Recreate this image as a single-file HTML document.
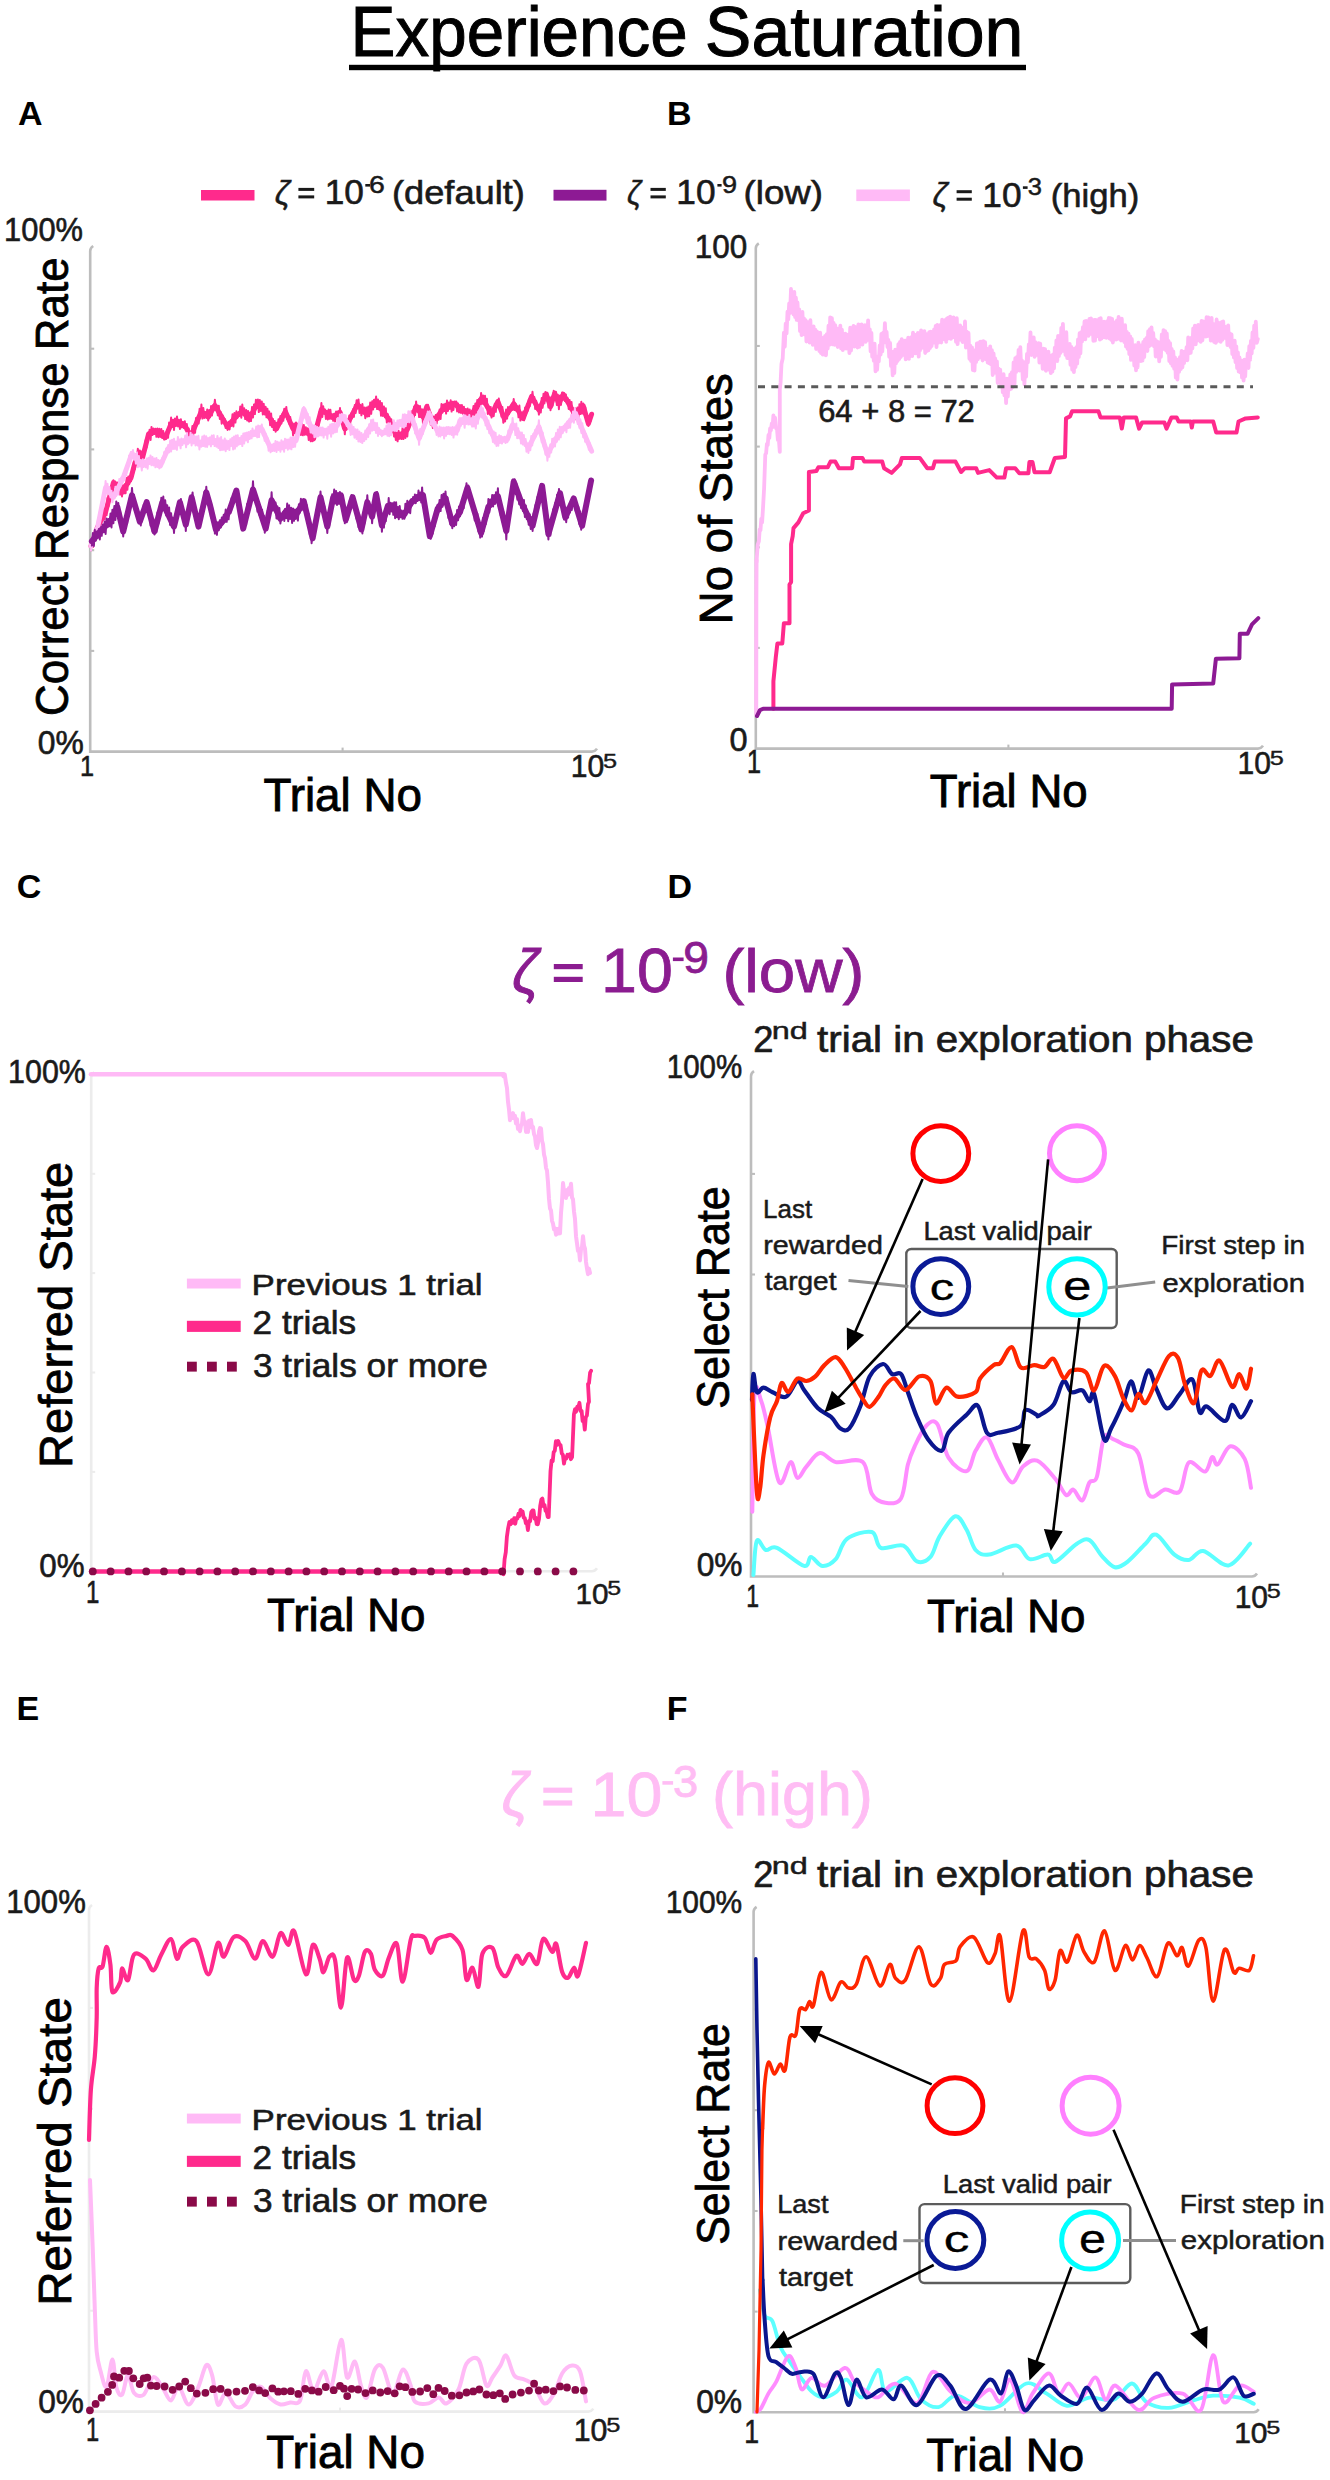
<!DOCTYPE html>
<html><head><meta charset="utf-8"><style>
html,body{margin:0;padding:0;background:#fff;}
svg{display:block;}
text{font-family:"Liberation Sans",sans-serif;}
</style></head><body>
<svg width="1330" height="2480" viewBox="0 0 1330 2480">
<rect width="1330" height="2480" fill="#fff"/>
<text x="350.61" y="56.00" font-size="71.00" font-weight="normal" font-style="normal" fill="#000" stroke="#000" stroke-width="1.00" textLength="337.13" lengthAdjust="spacingAndGlyphs" >Experience</text>
<text x="704.86" y="56.00" font-size="71.00" font-weight="normal" font-style="normal" fill="#000" stroke="#000" stroke-width="1.00" textLength="318.60" lengthAdjust="spacingAndGlyphs" >Saturation</text>
<rect x="349" y="64.8" width="677" height="5.4" fill="#000"/>
<text x="17.95" y="125" font-size="34" font-weight="bold" fill="#000">A</text>
<text x="666.99" y="125.3" font-size="34" font-weight="bold" fill="#000">B</text>
<text x="16.64" y="897.5" font-size="34" font-weight="bold" fill="#000">C</text>
<text x="667.39" y="897.6" font-size="34" font-weight="bold" fill="#000">D</text>
<text x="16.59" y="1720" font-size="34" font-weight="bold" fill="#000">E</text>
<text x="666.79" y="1720" font-size="34" font-weight="bold" fill="#000">F</text>
<rect x="201" y="190" width="53.5" height="10.5" fill="#ff2a8c"/>
<rect x="553.5" y="189.8" width="53" height="10.8" fill="#8d1a94"/>
<rect x="856.3" y="189.5" width="53.6" height="11.6" fill="#ffbaf6"/>
<text x="274.80" y="203.90" font-size="33.89" font-weight="normal" font-style="italic" fill="#1a1a1a" stroke="#1a1a1a" stroke-width="0.50" textLength="15.41" lengthAdjust="spacingAndGlyphs" >ζ</text>
<rect x="298.4" y="187.9" width="15.8" height="3" fill="#1a1a1a"/>
<rect x="298.4" y="195.4" width="15.8" height="3" fill="#1a1a1a"/>
<text x="324.76" y="204.20" font-size="34.57" font-weight="normal" font-style="normal" fill="#1a1a1a" stroke="#1a1a1a" stroke-width="0.60" textLength="39.15" lengthAdjust="spacingAndGlyphs" >10</text>
<rect x="365.3" y="184" width="4.7" height="2.6" fill="#1a1a1a"/>
<text x="369.08" y="192.60" font-size="24.00" font-weight="normal" font-style="normal" fill="#1a1a1a" stroke="#1a1a1a" stroke-width="0.50" textLength="15.79" lengthAdjust="spacingAndGlyphs" >6</text>
<text x="392.03" y="204.20" font-size="33.00" font-weight="normal" font-style="normal" fill="#1a1a1a" stroke="#1a1a1a" stroke-width="0.60" textLength="132.88" lengthAdjust="spacingAndGlyphs" >(default)</text>
<text x="626.97" y="203.90" font-size="33.89" font-weight="normal" font-style="italic" fill="#1a1a1a" stroke="#1a1a1a" stroke-width="0.50" textLength="14.34" lengthAdjust="spacingAndGlyphs" >ζ</text>
<rect x="650.5" y="187.9" width="15.3" height="3" fill="#1a1a1a"/>
<rect x="650.5" y="195.4" width="15.3" height="3" fill="#1a1a1a"/>
<text x="676.25" y="204.20" font-size="34.57" font-weight="normal" font-style="normal" fill="#1a1a1a" stroke="#1a1a1a" stroke-width="0.60" textLength="39.27" lengthAdjust="spacingAndGlyphs" >10</text>
<rect x="717.4" y="184" width="4.2" height="2.6" fill="#1a1a1a"/>
<text x="721.98" y="192.60" font-size="24.00" font-weight="normal" font-style="normal" fill="#1a1a1a" stroke="#1a1a1a" stroke-width="0.50" textLength="15.07" lengthAdjust="spacingAndGlyphs" >9</text>
<text x="743.60" y="204.20" font-size="33.00" font-weight="normal" font-style="normal" fill="#1a1a1a" stroke="#1a1a1a" stroke-width="0.60" textLength="79.46" lengthAdjust="spacingAndGlyphs" >(low)</text>
<text x="932.40" y="206.20" font-size="33.89" font-weight="normal" font-style="italic" fill="#1a1a1a" stroke="#1a1a1a" stroke-width="0.50" textLength="15.41" lengthAdjust="spacingAndGlyphs" >ζ</text>
<rect x="956.6" y="190.20000000000002" width="15.2" height="3" fill="#1a1a1a"/>
<rect x="956.6" y="197.70000000000002" width="15.2" height="3" fill="#1a1a1a"/>
<text x="982.35" y="206.50" font-size="34.57" font-weight="normal" font-style="normal" fill="#1a1a1a" stroke="#1a1a1a" stroke-width="0.60" textLength="39.27" lengthAdjust="spacingAndGlyphs" >10</text>
<rect x="1022.9" y="186.3" width="4.7" height="2.6" fill="#1a1a1a"/>
<text x="1027.68" y="194.90" font-size="24.00" font-weight="normal" font-style="normal" fill="#1a1a1a" stroke="#1a1a1a" stroke-width="0.50" textLength="14.17" lengthAdjust="spacingAndGlyphs" >3</text>
<text x="1050.82" y="206.50" font-size="33.00" font-weight="normal" font-style="normal" fill="#1a1a1a" stroke="#1a1a1a" stroke-width="0.60" textLength="88.52" lengthAdjust="spacingAndGlyphs" >(high)</text>
<path d="M93.2,246 Q90.2,248 90.2,251 L90.2,751.6 L592,751.6 Q595,751.6 597,748.6" fill="none" stroke="#bdbdbd" stroke-width="2.6"/>
<line x1="90.2" y1="348.7" x2="94.2" y2="348.7" stroke="#bdbdbd" stroke-width="2.08"/>
<line x1="90.2" y1="449.4" x2="94.2" y2="449.4" stroke="#bdbdbd" stroke-width="2.08"/>
<line x1="90.2" y1="550.2" x2="94.2" y2="550.2" stroke="#bdbdbd" stroke-width="2.08"/>
<line x1="90.2" y1="650.9" x2="94.2" y2="650.9" stroke="#bdbdbd" stroke-width="2.08"/>
<line x1="342.6" y1="751.6" x2="342.6" y2="747.6" stroke="#bdbdbd" stroke-width="2.08"/>
<text x="4.09" y="240.80" font-size="33.29" font-weight="normal" font-style="normal" fill="#1a1a1a" stroke="#1a1a1a" stroke-width="0.63" textLength="78.92" lengthAdjust="spacingAndGlyphs" >100%</text>
<text x="37.73" y="754.00" font-size="32.86" font-weight="normal" font-style="normal" fill="#1a1a1a" stroke="#1a1a1a" stroke-width="0.62" textLength="46.00" lengthAdjust="spacingAndGlyphs" >0%</text>
<text x="80.10" y="775.60" font-size="29.42" font-weight="normal" font-style="normal" fill="#1a1a1a" stroke="#1a1a1a" stroke-width="0.56" textLength="14.06" lengthAdjust="spacingAndGlyphs" >1</text>
<text x="570.74" y="776.70" font-size="30.57" font-weight="normal" font-style="normal" fill="#1a1a1a" stroke="#1a1a1a" stroke-width="0.58" textLength="33.48" lengthAdjust="spacingAndGlyphs" >10</text>
<text x="602.95" y="767.54" font-size="19.91" font-weight="normal" font-style="normal" fill="#1a1a1a" stroke="#1a1a1a" stroke-width="0.38" textLength="14.10" lengthAdjust="spacingAndGlyphs" >5</text>
<text x="263.38" y="810.70" font-size="46.00" font-weight="normal" font-style="normal" fill="#000" stroke="#000" stroke-width="0.87" textLength="158.61" lengthAdjust="spacingAndGlyphs" >Trial No</text>
<text transform="translate(68.40,715.99) rotate(-90)" x="0" y="0" font-size="46.00" fill="#000" stroke="#000" stroke-width="0.8" textLength="458.54" lengthAdjust="spacingAndGlyphs">Correct Response Rate</text>
<path d="M758.8,243.3 Q755.8,245.3 755.8,248.3 L755.8,748.6 L1258,748.6 Q1261,748.6 1263,745.6" fill="none" stroke="#bdbdbd" stroke-width="2.6"/>
<line x1="755.8" y1="345.96" x2="759.8" y2="345.96" stroke="#bdbdbd" stroke-width="2.08"/>
<line x1="755.8" y1="446.6" x2="759.8" y2="446.6" stroke="#bdbdbd" stroke-width="2.08"/>
<line x1="755.8" y1="547.3" x2="759.8" y2="547.3" stroke="#bdbdbd" stroke-width="2.08"/>
<line x1="755.8" y1="647.9" x2="759.8" y2="647.9" stroke="#bdbdbd" stroke-width="2.08"/>
<line x1="1008.4" y1="748.6" x2="1008.4" y2="744.6" stroke="#bdbdbd" stroke-width="2.08"/>
<text x="694.74" y="258.00" font-size="33.14" font-weight="normal" font-style="normal" fill="#1a1a1a" stroke="#1a1a1a" stroke-width="0.63" textLength="52.47" lengthAdjust="spacingAndGlyphs" >100</text>
<text x="729.50" y="751.00" font-size="32.86" font-weight="normal" font-style="normal" fill="#1a1a1a" stroke="#1a1a1a" stroke-width="0.62" textLength="18.08" lengthAdjust="spacingAndGlyphs" >0</text>
<text x="747.10" y="773.40" font-size="32.46" font-weight="normal" font-style="normal" fill="#1a1a1a" stroke="#1a1a1a" stroke-width="0.62" textLength="14.06" lengthAdjust="spacingAndGlyphs" >1</text>
<text x="1237.55" y="774.00" font-size="30.71" font-weight="normal" font-style="normal" fill="#1a1a1a" stroke="#1a1a1a" stroke-width="0.58" textLength="33.40" lengthAdjust="spacingAndGlyphs" >10</text>
<text x="1269.68" y="764.80" font-size="20.00" font-weight="normal" font-style="normal" fill="#1a1a1a" stroke="#1a1a1a" stroke-width="0.38" textLength="14.06" lengthAdjust="spacingAndGlyphs" >5</text>
<text x="929.79" y="807.10" font-size="46.00" font-weight="normal" font-style="normal" fill="#000" stroke="#000" stroke-width="0.87" textLength="157.90" lengthAdjust="spacingAndGlyphs" >Trial No</text>
<text transform="translate(731.70,624.15) rotate(-90)" x="0" y="0" font-size="46.00" fill="#000" stroke="#000" stroke-width="0.8" textLength="250.95" lengthAdjust="spacingAndGlyphs">No of States</text>
<text x="818.15" y="422.00" font-size="30.57" font-weight="normal" font-style="normal" fill="#1a1a1a" stroke="#1a1a1a" stroke-width="0.58" textLength="156.70" lengthAdjust="spacingAndGlyphs" >64 + 8 = 72</text>
<path d="M94.2,1072.4 Q91.2,1074.4 91.2,1077.4 L91.2,1571.2 L592,1571.2 Q595,1571.2 597,1568.2" fill="none" stroke="#ececec" stroke-width="2.6"/>
<line x1="91.2" y1="1173.8" x2="95.2" y2="1173.8" stroke="#ececec" stroke-width="2.08"/>
<line x1="91.2" y1="1273.1" x2="95.2" y2="1273.1" stroke="#ececec" stroke-width="2.08"/>
<line x1="91.2" y1="1372.5" x2="95.2" y2="1372.5" stroke="#ececec" stroke-width="2.08"/>
<line x1="91.2" y1="1471.9" x2="95.2" y2="1471.9" stroke="#ececec" stroke-width="2.08"/>
<line x1="343" y1="1571.2" x2="343" y2="1567.2" stroke="#ececec" stroke-width="2.08"/>
<text x="8.12" y="1083.00" font-size="33.57" font-weight="normal" font-style="normal" fill="#1a1a1a" stroke="#1a1a1a" stroke-width="0.64" textLength="77.67" lengthAdjust="spacingAndGlyphs" >100%</text>
<text x="39.25" y="1576.50" font-size="33.57" font-weight="normal" font-style="normal" fill="#1a1a1a" stroke="#1a1a1a" stroke-width="0.64" textLength="45.26" lengthAdjust="spacingAndGlyphs" >0%</text>
<text x="86.09" y="1603.00" font-size="30.87" font-weight="normal" font-style="normal" fill="#1a1a1a" stroke="#1a1a1a" stroke-width="0.59" textLength="13.42" lengthAdjust="spacingAndGlyphs" >1</text>
<text x="575.57" y="1604.00" font-size="30.14" font-weight="normal" font-style="normal" fill="#1a1a1a" stroke="#1a1a1a" stroke-width="0.57" textLength="33.01" lengthAdjust="spacingAndGlyphs" >10</text>
<text x="607.33" y="1594.96" font-size="19.65" font-weight="normal" font-style="normal" fill="#1a1a1a" stroke="#1a1a1a" stroke-width="0.37" textLength="13.90" lengthAdjust="spacingAndGlyphs" >5</text>
<text x="266.98" y="1631.40" font-size="46.00" font-weight="normal" font-style="normal" fill="#000" stroke="#000" stroke-width="0.87" textLength="158.61" lengthAdjust="spacingAndGlyphs" >Trial No</text>
<text transform="translate(72.10,1468.07) rotate(-90)" x="0" y="0" font-size="46.00" fill="#000" stroke="#000" stroke-width="0.8" textLength="306.36" lengthAdjust="spacingAndGlyphs">Referred State</text>
<text x="512.27" y="991.72" font-size="61.56" font-weight="normal" font-style="italic" fill="#8b1c90" stroke="#8b1c90" stroke-width="1.00" textLength="26.73" lengthAdjust="spacingAndGlyphs" >ζ</text>
<rect x="553.8" y="964" width="28.9" height="5.2" fill="#8b1c90"/>
<rect x="553.8" y="976.8" width="28.9" height="5.2" fill="#8b1c90"/>
<text x="601.06" y="992.00" font-size="63.71" font-weight="normal" font-style="normal" fill="#8b1c90" stroke="#8b1c90" stroke-width="0.80" textLength="71.75" lengthAdjust="spacingAndGlyphs" >10</text>
<rect x="672.9" y="957.5" width="10.7" height="3.6" fill="#8b1c90"/>
<text x="683.22" y="973.00" font-size="43.71" font-weight="normal" font-style="normal" fill="#8b1c90" stroke="#8b1c90" stroke-width="0.83" textLength="25.72" lengthAdjust="spacingAndGlyphs" >9</text>
<text x="722.47" y="991.50" font-size="62.00" font-weight="normal" font-style="normal" fill="#8b1c90" stroke="#8b1c90" stroke-width="0.80" textLength="141.97" lengthAdjust="spacingAndGlyphs" >(low)</text>
<rect x="186.9" y="1278.6" width="53.8" height="9.9" fill="#ffbaf6"/>
<text x="251.61" y="1294.70" font-size="29.10" font-weight="normal" font-style="normal" fill="#1a1a1a" stroke="#1a1a1a" stroke-width="0.55" textLength="231.00" lengthAdjust="spacingAndGlyphs" >Previous 1 trial</text>
<rect x="186.9" y="1320.8" width="53.8" height="11.1" fill="#ff2a8c"/>
<text x="252.64" y="1334.40" font-size="32.55" font-weight="normal" font-style="normal" fill="#1a1a1a" stroke="#1a1a1a" stroke-width="0.62" textLength="103.50" lengthAdjust="spacingAndGlyphs" >2 trials</text>
<rect x="187" y="1361.7" width="9.8" height="9.9" fill="#8a0a48"/>
<rect x="207" y="1361.7" width="9.8" height="9.9" fill="#8a0a48"/>
<rect x="227" y="1361.7" width="9.8" height="9.9" fill="#8a0a48"/>
<text x="252.99" y="1376.60" font-size="32.55" font-weight="normal" font-style="normal" fill="#1a1a1a" stroke="#1a1a1a" stroke-width="0.62" textLength="234.95" lengthAdjust="spacingAndGlyphs" >3 trials or more</text>
<path d="M754,1071.2 Q751,1073.2 751,1076.2 L751,1576.5 L1252,1576.5 Q1255,1576.5 1257,1573.5" fill="none" stroke="#bdbdbd" stroke-width="2.6"/>
<line x1="751" y1="1173.9" x2="755" y2="1173.9" stroke="#bdbdbd" stroke-width="2.08"/>
<line x1="751" y1="1274.5" x2="755" y2="1274.5" stroke="#bdbdbd" stroke-width="2.08"/>
<line x1="751" y1="1375.2" x2="755" y2="1375.2" stroke="#bdbdbd" stroke-width="2.08"/>
<line x1="751" y1="1475.8" x2="755" y2="1475.8" stroke="#bdbdbd" stroke-width="2.08"/>
<line x1="1003" y1="1576.5" x2="1003" y2="1572.5" stroke="#bdbdbd" stroke-width="2.08"/>
<text x="666.79" y="1077.70" font-size="32.43" font-weight="normal" font-style="normal" fill="#1a1a1a" stroke="#1a1a1a" stroke-width="0.62" textLength="75.37" lengthAdjust="spacingAndGlyphs" >100%</text>
<text x="696.73" y="1576.00" font-size="33.43" font-weight="normal" font-style="normal" fill="#1a1a1a" stroke="#1a1a1a" stroke-width="0.64" textLength="45.79" lengthAdjust="spacingAndGlyphs" >0%</text>
<text x="746.28" y="1606.70" font-size="32.03" font-weight="normal" font-style="normal" fill="#1a1a1a" stroke="#1a1a1a" stroke-width="0.61" textLength="12.79" lengthAdjust="spacingAndGlyphs" >1</text>
<text x="1234.65" y="1607.50" font-size="31.43" font-weight="normal" font-style="normal" fill="#1a1a1a" stroke="#1a1a1a" stroke-width="0.60" textLength="33.33" lengthAdjust="spacingAndGlyphs" >10</text>
<text x="1266.71" y="1598.10" font-size="20.43" font-weight="normal" font-style="normal" fill="#1a1a1a" stroke="#1a1a1a" stroke-width="0.39" textLength="14.03" lengthAdjust="spacingAndGlyphs" >5</text>
<text x="926.98" y="1632.10" font-size="46.00" font-weight="normal" font-style="normal" fill="#000" stroke="#000" stroke-width="0.87" textLength="158.61" lengthAdjust="spacingAndGlyphs" >Trial No</text>
<text transform="translate(729.40,1408.64) rotate(-90)" x="0" y="0" font-size="46.00" fill="#000" stroke="#000" stroke-width="0.8" textLength="222.35" lengthAdjust="spacingAndGlyphs">Select Rate</text>
<text x="753.19" y="1051.70" font-size="37.00" font-weight="normal" font-style="normal" fill="#1a1a1a" stroke="#1a1a1a" stroke-width="0.70" textLength="20.17" lengthAdjust="spacingAndGlyphs" >2</text>
<text x="771.79" y="1038.50" font-size="24.14" font-weight="normal" font-style="normal" fill="#1a1a1a" stroke="#1a1a1a" stroke-width="0.46" textLength="36.09" lengthAdjust="spacingAndGlyphs" >nd</text>
<text x="817.10" y="1051.70" font-size="36.00" font-weight="normal" font-style="normal" fill="#1a1a1a" stroke="#1a1a1a" stroke-width="0.68" textLength="436.72" lengthAdjust="spacingAndGlyphs" >trial in exploration phase</text>
<path d="M92,1905 Q89,1907 89,1910 L89,2411.6 L588.3,2411.6 Q591.3,2411.6 593.3,2408.6" fill="none" stroke="#ececec" stroke-width="2.6"/>
<line x1="89" y1="2007.9" x2="93" y2="2007.9" stroke="#ececec" stroke-width="2.08"/>
<line x1="89" y1="2108.8" x2="93" y2="2108.8" stroke="#ececec" stroke-width="2.08"/>
<line x1="89" y1="2209.7" x2="93" y2="2209.7" stroke="#ececec" stroke-width="2.08"/>
<line x1="89" y1="2310.7" x2="93" y2="2310.7" stroke="#ececec" stroke-width="2.08"/>
<line x1="340" y1="2411.6" x2="340" y2="2407.6" stroke="#ececec" stroke-width="2.08"/>
<text x="6.27" y="1913.40" font-size="34.14" font-weight="normal" font-style="normal" fill="#1a1a1a" stroke="#1a1a1a" stroke-width="0.65" textLength="79.55" lengthAdjust="spacingAndGlyphs" >100%</text>
<text x="38.24" y="2412.50" font-size="34.14" font-weight="normal" font-style="normal" fill="#1a1a1a" stroke="#1a1a1a" stroke-width="0.65" textLength="45.68" lengthAdjust="spacingAndGlyphs" >0%</text>
<text x="86.02" y="2440.50" font-size="33.33" font-weight="normal" font-style="normal" fill="#1a1a1a" stroke="#1a1a1a" stroke-width="0.63" textLength="13.17" lengthAdjust="spacingAndGlyphs" >1</text>
<text x="573.73" y="2441.00" font-size="31.00" font-weight="normal" font-style="normal" fill="#1a1a1a" stroke="#1a1a1a" stroke-width="0.59" textLength="33.72" lengthAdjust="spacingAndGlyphs" >10</text>
<text x="606.16" y="2431.72" font-size="20.17" font-weight="normal" font-style="normal" fill="#1a1a1a" stroke="#1a1a1a" stroke-width="0.38" textLength="14.20" lengthAdjust="spacingAndGlyphs" >5</text>
<text x="266.18" y="2467.90" font-size="46.00" font-weight="normal" font-style="normal" fill="#000" stroke="#000" stroke-width="0.87" textLength="158.71" lengthAdjust="spacingAndGlyphs" >Trial No</text>
<text transform="translate(71.40,2305.80) rotate(-90)" x="0" y="0" font-size="46.00" fill="#000" stroke="#000" stroke-width="0.8" textLength="308.60" lengthAdjust="spacingAndGlyphs">Referred State</text>
<text x="501.77" y="1815.32" font-size="61.56" font-weight="normal" font-style="italic" fill="#ffbdf4" stroke="#ffbdf4" stroke-width="1.00" textLength="26.73" lengthAdjust="spacingAndGlyphs" >ζ</text>
<rect x="543.3" y="1787.6" width="28.9" height="5.2" fill="#ffbdf4"/>
<rect x="543.3" y="1800.3999999999999" width="28.9" height="5.2" fill="#ffbdf4"/>
<text x="590.56" y="1815.60" font-size="63.71" font-weight="normal" font-style="normal" fill="#ffbdf4" stroke="#ffbdf4" stroke-width="0.80" textLength="71.75" lengthAdjust="spacingAndGlyphs" >10</text>
<rect x="662.4" y="1781.1" width="10.7" height="3.6" fill="#ffbdf4"/>
<text x="672.99" y="1796.60" font-size="43.71" font-weight="normal" font-style="normal" fill="#ffbdf4" stroke="#ffbdf4" stroke-width="0.83" textLength="25.17" lengthAdjust="spacingAndGlyphs" >3</text>
<text x="712.13" y="1815.10" font-size="62.00" font-weight="normal" font-style="normal" fill="#ffbdf4" stroke="#ffbdf4" stroke-width="0.80" textLength="160.76" lengthAdjust="spacingAndGlyphs" >(high)</text>
<rect x="186.9" y="2113.6" width="53.8" height="9.9" fill="#ffbaf6"/>
<text x="251.61" y="2129.70" font-size="29.10" font-weight="normal" font-style="normal" fill="#1a1a1a" stroke="#1a1a1a" stroke-width="0.55" textLength="231.00" lengthAdjust="spacingAndGlyphs" >Previous 1 trial</text>
<rect x="186.9" y="2155.8" width="53.8" height="11.1" fill="#ff2a8c"/>
<text x="252.64" y="2169.40" font-size="32.55" font-weight="normal" font-style="normal" fill="#1a1a1a" stroke="#1a1a1a" stroke-width="0.62" textLength="103.50" lengthAdjust="spacingAndGlyphs" >2 trials</text>
<rect x="187" y="2196.7" width="9.8" height="9.9" fill="#8a0a48"/>
<rect x="207" y="2196.7" width="9.8" height="9.9" fill="#8a0a48"/>
<rect x="227" y="2196.7" width="9.8" height="9.9" fill="#8a0a48"/>
<text x="252.99" y="2211.60" font-size="32.55" font-weight="normal" font-style="normal" fill="#1a1a1a" stroke="#1a1a1a" stroke-width="0.62" textLength="234.95" lengthAdjust="spacingAndGlyphs" >3 trials or more</text>
<path d="M756.6,1906.8 Q753.6,1908.8 753.6,1911.8 L753.6,2412.3 L1253.7,2412.3 Q1256.7,2412.3 1258.7,2409.3" fill="none" stroke="#bdbdbd" stroke-width="2.6"/>
<line x1="753.6" y1="2009.5" x2="757.6" y2="2009.5" stroke="#bdbdbd" stroke-width="2.08"/>
<line x1="753.6" y1="2110.2" x2="757.6" y2="2110.2" stroke="#bdbdbd" stroke-width="2.08"/>
<line x1="753.6" y1="2211.0" x2="757.6" y2="2211.0" stroke="#bdbdbd" stroke-width="2.08"/>
<line x1="753.6" y1="2311.6" x2="757.6" y2="2311.6" stroke="#bdbdbd" stroke-width="2.08"/>
<line x1="1005" y1="2412.3" x2="1005" y2="2408.3" stroke="#bdbdbd" stroke-width="2.08"/>
<text x="665.66" y="1913.30" font-size="32.14" font-weight="normal" font-style="normal" fill="#1a1a1a" stroke="#1a1a1a" stroke-width="0.61" textLength="76.52" lengthAdjust="spacingAndGlyphs" >100%</text>
<text x="696.13" y="2412.60" font-size="33.71" font-weight="normal" font-style="normal" fill="#1a1a1a" stroke="#1a1a1a" stroke-width="0.64" textLength="46.00" lengthAdjust="spacingAndGlyphs" >0%</text>
<text x="744.30" y="2443.20" font-size="32.90" font-weight="normal" font-style="normal" fill="#1a1a1a" stroke="#1a1a1a" stroke-width="0.63" textLength="14.83" lengthAdjust="spacingAndGlyphs" >1</text>
<text x="1234.15" y="2442.60" font-size="29.43" font-weight="normal" font-style="normal" fill="#1a1a1a" stroke="#1a1a1a" stroke-width="0.56" textLength="33.40" lengthAdjust="spacingAndGlyphs" >10</text>
<text x="1266.28" y="2433.76" font-size="19.22" font-weight="normal" font-style="normal" fill="#1a1a1a" stroke="#1a1a1a" stroke-width="0.37" textLength="14.06" lengthAdjust="spacingAndGlyphs" >5</text>
<text x="926.19" y="2471.40" font-size="46.00" font-weight="normal" font-style="normal" fill="#000" stroke="#000" stroke-width="0.87" textLength="157.90" lengthAdjust="spacingAndGlyphs" >Trial No</text>
<text transform="translate(728.50,2244.83) rotate(-90)" x="0" y="0" font-size="46.00" fill="#000" stroke="#000" stroke-width="0.8" textLength="221.74" lengthAdjust="spacingAndGlyphs">Select Rate</text>
<text x="753.19" y="1887.40" font-size="37.00" font-weight="normal" font-style="normal" fill="#1a1a1a" stroke="#1a1a1a" stroke-width="0.70" textLength="20.17" lengthAdjust="spacingAndGlyphs" >2</text>
<text x="771.79" y="1874.20" font-size="24.14" font-weight="normal" font-style="normal" fill="#1a1a1a" stroke="#1a1a1a" stroke-width="0.46" textLength="36.09" lengthAdjust="spacingAndGlyphs" >nd</text>
<text x="817.10" y="1887.40" font-size="36.00" font-weight="normal" font-style="normal" fill="#1a1a1a" stroke="#1a1a1a" stroke-width="0.68" textLength="436.72" lengthAdjust="spacingAndGlyphs" >trial in exploration phase</text>
<polyline points="91.0,546.0 97.8,526.6 105.6,512.0 113.4,482.6 122.0,492.0 131.0,477.8 134.9,463.0 138.8,452.3 142.7,457.2 148.6,433.8 156.4,430.8 165.2,437.7 171.1,424.0 180.9,423.0 185.8,427.0 190.6,436.7 201.4,411.3 208.2,417.1 214.9,405.4 221.7,417.1 227.6,426.9 235.4,417.1 242.3,411.3 249.1,419.1 256.9,404.4 264.7,409.3 276.5,428.9 285.3,411.3 293.1,428.9 303.8,428.9 313.6,438.7 321.4,409.3 332.2,417.1 340.0,412.3 344.8,428.8 357.5,404.3 366.3,414.1 375.1,401.4 386.8,416.1 397.6,437.6 407.3,429.7 416.1,406.3 423.0,417.0 426.9,406.3 432.8,423.9 442.5,409.2 455.2,403.3 460.0,410.0 471.6,414.2 482.1,397.4 491.6,414.2 497.9,401.6 504.2,418.4 513.7,403.7 523.2,418.4 531.6,396.3 538.9,410.0 546.3,394.2 550.5,406.8 554.7,393.2 558.9,403.7 563.2,394.2 570.5,406.8 574.7,414.2 583.2,405.8 588.4,423.7 591.6,414.2" fill="none" stroke="#ff2a8c" stroke-width="5.0" stroke-linejoin="round" stroke-linecap="round" />
<polyline points="91.0,550.3 92.0,538.4 92.9,547.1 93.9,533.3 94.9,539.5 95.9,527.2 96.8,532.4 97.8,522.0 98.8,530.0 99.8,517.0 100.7,523.7 101.7,515.7 102.7,520.0 103.6,509.6 104.6,519.3 105.6,509.7 106.6,515.2 107.5,497.8 108.5,506.3 109.5,492.2 110.5,496.5 111.5,487.8 112.4,491.0 113.4,480.2 114.4,486.7 115.3,481.4 116.3,488.0 117.2,482.4 118.2,492.1 119.1,482.6 120.1,494.6 121.0,485.7 122.0,496.5 122.9,485.2 123.8,493.5 124.7,484.3 125.6,493.3 126.5,477.9 127.4,489.7 128.3,476.5 129.2,484.3 130.1,476.0 131.0,481.3 132.0,471.7 132.9,476.3 133.9,462.6 134.9,469.2 135.9,456.3 136.9,464.4 137.8,448.7 138.8,454.4 139.8,450.4 140.8,461.3 141.7,451.6 142.7,464.1 143.7,449.3 144.7,451.9 145.6,440.3 146.6,447.5 147.6,434.3 148.6,436.3 149.6,429.7 150.6,439.9 151.5,426.9 152.5,435.0 153.5,428.6 154.4,434.1 155.4,428.8 156.4,436.8 157.4,428.6 158.4,437.2 159.3,428.8 160.3,436.9 161.3,428.9 162.3,438.1 163.2,430.9 164.2,439.6 165.2,433.5 166.2,438.6 167.2,429.7 168.1,437.7 169.1,422.5 170.1,429.9 171.1,417.6 172.1,427.0 173.1,419.8 174.0,430.0 175.0,418.4 176.0,426.1 177.0,416.5 178.0,426.4 178.9,419.8 179.9,429.0 180.9,419.3 181.9,427.4 182.9,422.1 183.8,427.9 184.8,421.2 185.8,430.3 186.8,423.9 187.7,434.8 188.7,428.5 189.6,441.6 190.6,432.2 191.5,439.5 192.4,426.1 193.3,433.3 194.2,425.4 195.1,432.7 196.0,417.9 196.9,425.2 197.8,416.7 198.7,423.4 199.6,408.8 200.5,416.5 201.4,404.5 202.4,418.6 203.3,407.9 204.3,418.0 205.3,412.0 206.3,417.7 207.2,409.5 208.2,420.4 209.2,409.9 210.1,417.1 211.1,405.9 212.0,415.4 213.0,405.2 213.9,410.0 214.9,399.8 215.9,409.5 216.8,405.5 217.8,415.3 218.8,405.8 219.8,418.9 220.7,412.0 221.7,423.7 222.7,415.6 223.7,422.5 224.6,418.6 225.6,427.9 226.6,422.9 227.6,429.9 228.6,421.8 229.6,429.4 230.5,420.5 231.5,425.9 232.5,414.3 233.4,426.5 234.4,413.0 235.4,422.6 236.4,411.3 237.4,418.2 238.4,412.3 239.3,416.0 240.3,406.4 241.3,417.7 242.3,404.5 243.3,414.6 244.2,408.3 245.2,419.1 246.2,410.1 247.2,420.5 248.1,411.0 249.1,421.6 250.1,412.5 251.0,421.1 252.0,407.1 253.0,417.5 254.0,404.4 254.9,414.1 255.9,399.7 256.9,408.2 257.9,399.6 258.8,412.1 259.8,399.9 260.8,411.0 261.8,401.5 262.8,414.4 263.7,403.8 264.7,414.5 265.6,406.8 266.5,417.3 267.4,408.7 268.3,417.8 269.2,411.6 270.1,425.3 271.1,413.4 272.0,427.0 272.9,418.9 273.8,430.1 274.7,420.9 275.6,431.7 276.5,422.7 277.5,429.5 278.5,419.2 279.4,425.3 280.4,416.0 281.4,423.6 282.4,413.9 283.3,420.7 284.3,408.7 285.3,416.4 286.3,406.9 287.2,419.1 288.2,415.7 289.2,423.7 290.2,416.9 291.2,427.6 292.1,423.8 293.1,435.4 294.1,423.6 295.0,433.2 296.0,422.4 297.0,432.6 298.0,423.5 298.9,432.0 299.9,424.7 300.9,434.9 301.9,422.3 302.8,435.3 303.8,424.9 304.8,434.8 305.8,427.2 306.7,434.6 307.7,428.3 308.7,440.0 309.7,428.5 310.7,441.3 311.6,430.0 312.6,441.2 313.6,435.8 314.6,439.3 315.6,427.9 316.5,430.8 317.5,419.9 318.5,425.5 319.4,412.1 320.4,416.6 321.4,403.1 322.3,416.9 323.2,406.3 324.1,413.7 325.0,409.6 325.9,418.9 326.8,410.9 327.7,419.4 328.6,409.6 329.5,418.8 330.4,409.8 331.3,418.6 332.2,414.3 333.2,420.8 334.1,413.7 335.1,421.5 336.1,411.4 337.1,416.9 338.1,411.2 339.0,418.1 340.0,408.0 341.0,420.8 341.9,413.6 342.9,428.3 343.8,418.7 344.8,434.3 345.7,424.0 346.6,429.7 347.5,420.6 348.4,424.0 349.3,415.6 350.2,423.9 351.1,413.6 352.1,418.2 353.0,409.3 353.9,416.8 354.8,404.9 355.7,412.9 356.6,400.2 357.5,408.3 358.5,399.4 359.5,413.0 360.4,405.0 361.4,415.3 362.4,404.1 363.4,413.6 364.3,407.6 365.3,418.2 366.3,407.5 367.3,416.6 368.3,406.4 369.2,416.3 370.2,402.5 371.2,413.8 372.2,401.3 373.1,409.5 374.1,399.7 375.1,407.0 376.1,396.5 377.1,409.1 378.0,399.5 379.0,409.4 380.0,401.0 381.0,415.7 381.9,403.1 382.9,415.9 383.9,406.5 384.9,417.3 385.8,408.3 386.8,422.4 387.7,414.1 388.6,422.2 389.5,417.2 390.4,428.1 391.3,419.2 392.2,431.3 393.1,426.4 394.0,436.5 394.9,429.8 395.8,440.0 396.7,432.9 397.6,441.3 398.6,430.8 399.5,438.8 400.5,432.4 401.5,439.1 402.5,428.0 403.4,439.1 404.4,426.6 405.4,438.0 406.3,426.0 407.3,436.5 408.3,424.6 409.3,427.7 410.2,417.2 411.2,422.8 412.2,411.0 413.2,419.3 414.1,406.8 415.1,415.1 416.1,401.5 417.1,411.5 418.1,405.4 419.1,417.1 420.0,405.9 421.0,417.1 422.0,409.2 423.0,423.8 424.0,409.7 424.9,416.6 425.9,405.9 426.9,411.0 427.9,404.7 428.9,417.2 429.9,412.9 430.8,424.9 431.8,416.3 432.8,428.0 433.8,416.4 434.7,425.8 435.7,415.0 436.7,423.5 437.6,414.1 438.6,419.8 439.6,409.5 440.6,418.9 441.5,404.0 442.5,412.6 443.4,404.4 444.3,411.1 445.2,403.7 446.1,413.6 447.0,400.6 447.9,411.1 448.9,402.6 449.8,408.9 450.7,400.3 451.6,411.6 452.5,401.8 453.4,410.1 454.3,401.5 455.2,406.4 456.2,401.4 457.1,411.4 458.1,403.6 459.0,412.5 460.0,404.9 461.0,413.0 461.9,405.0 462.9,413.8 463.9,406.8 464.8,415.1 465.8,409.0 466.8,417.1 467.7,408.6 468.7,417.1 469.7,409.4 470.6,418.5 471.6,411.3 472.6,415.8 473.5,406.0 474.5,414.8 475.4,403.4 476.4,412.8 477.3,399.9 478.3,409.8 479.2,398.7 480.2,406.2 481.1,392.9 482.1,403.9 483.1,395.4 484.0,404.4 485.0,395.8 485.9,407.3 486.9,398.8 487.8,413.9 488.8,406.4 489.7,414.1 490.7,406.9 491.6,417.6 492.7,409.5 493.7,416.2 494.8,403.7 495.8,411.8 496.8,401.0 497.9,405.7 498.8,398.5 499.7,408.6 500.6,405.7 501.5,416.6 502.4,407.0 503.3,422.8 504.2,415.7 505.1,421.5 506.1,409.6 507.1,418.6 508.0,407.1 509.0,414.1 509.9,407.1 510.9,410.7 511.8,404.4 512.8,410.0 513.7,399.1 514.7,410.1 515.6,403.8 516.6,411.1 517.5,406.5 518.5,417.3 519.4,405.6 520.4,420.6 521.3,412.9 522.2,419.3 523.2,411.6 524.1,420.3 525.1,407.6 526.0,414.7 526.9,404.2 527.9,410.7 528.8,399.5 529.7,406.3 530.7,396.6 531.6,401.8 532.5,391.8 533.4,402.7 534.3,397.1 535.2,408.9 536.2,400.8 537.1,409.6 538.0,405.4 538.9,414.6 539.8,405.8 540.8,412.5 541.7,398.0 542.6,407.7 543.5,393.8 544.4,403.3 545.4,392.1 546.3,399.2 547.3,392.8 548.4,407.4 549.5,397.6 550.5,410.2 551.5,396.8 552.6,405.7 553.7,390.7 554.7,399.3 555.8,391.7 556.8,404.9 557.9,394.7 558.9,409.2 560.0,395.5 561.0,404.8 562.1,392.5 563.2,399.8 564.1,393.3 565.0,401.1 565.9,394.5 566.9,402.7 567.8,398.2 568.7,408.9 569.6,400.1 570.5,410.0 571.5,401.9 572.6,415.9 573.7,408.6 574.7,419.5 575.6,408.4 576.6,417.0 577.5,407.4 578.5,417.5 579.4,404.3 580.4,414.1 581.3,401.8 582.3,413.6 583.2,403.6 584.2,414.5 585.3,407.2 586.3,419.9 587.4,416.1 588.4,426.0 589.5,417.5 590.5,421.3 591.6,414.2" fill="none" stroke="#ff2a8c" stroke-width="2.0" stroke-linejoin="round" stroke-linecap="round" />
<polyline points="91.0,546.0 97.8,526.6 105.6,487.5 113.4,497.3 123.2,477.8 132.0,453.3 141.8,465.0 151.5,461.1 160.3,466.0 168.2,448.4 177.9,443.5 190.6,438.7 200.4,443.5 210.0,440.6 226.6,445.5 244.2,438.7 261.8,428.9 270.6,448.4 281.4,446.5 296.0,440.6 303.8,409.3 312.6,430.8 327.3,431.8 335.0,428.8 342.8,416.1 352.6,431.7 363.3,438.5 372.1,423.9 381.9,433.7 395.6,425.8 411.2,416.1 419.1,438.5 428.8,414.1 437.6,431.7 457.2,430.7 460.0,420.5 475.8,421.6 481.1,410.0 494.7,439.5 507.4,439.5 512.6,424.7 528.4,447.9 538.9,426.8 547.4,454.2 557.9,435.3 575.8,414.2 591.6,451.1" fill="none" stroke="#ffbaf6" stroke-width="5.0" stroke-linejoin="round" stroke-linecap="round" />
<polyline points="91.0,550.4 92.0,537.9 92.9,545.8 93.9,534.9 94.9,537.1 95.9,528.2 96.8,532.8 97.8,520.5 98.8,527.2 99.8,511.8 100.7,516.8 101.7,501.7 102.7,505.0 103.6,493.0 104.6,495.3 105.6,481.0 106.6,491.1 107.5,483.8 108.5,493.6 109.5,486.9 110.5,497.4 111.5,490.8 112.4,502.3 113.4,495.1 114.4,497.7 115.4,486.8 116.3,496.0 117.3,487.0 118.3,494.5 119.3,478.9 120.3,486.3 121.2,477.5 122.2,482.5 123.2,474.2 124.2,480.2 125.2,469.5 126.1,475.1 127.1,464.6 128.1,467.1 129.1,455.4 130.0,462.8 131.0,451.9 132.0,458.3 133.0,450.0 134.0,459.6 134.9,454.6 135.9,463.6 136.9,452.3 137.9,467.2 138.9,456.1 139.8,466.5 140.8,460.0 141.8,470.5 142.8,459.2 143.7,466.9 144.7,460.6 145.7,467.3 146.7,458.4 147.6,468.7 148.6,457.7 149.6,464.1 150.5,455.4 151.5,465.3 152.5,457.0 153.5,465.4 154.4,458.5 155.4,467.3 156.4,457.9 157.4,467.0 158.3,460.1 159.3,468.4 160.3,460.5 161.3,466.1 162.3,458.1 163.3,463.2 164.2,452.0 165.2,457.4 166.2,448.4 167.2,453.7 168.2,444.9 169.2,452.3 170.1,440.6 171.1,451.4 172.1,439.7 173.1,448.9 174.0,438.8 175.0,448.9 176.0,441.5 176.9,449.8 177.9,436.9 178.8,445.3 179.7,439.4 180.6,448.3 181.5,438.4 182.4,445.1 183.3,439.3 184.2,443.4 185.2,435.6 186.1,447.3 187.0,433.1 187.9,444.3 188.8,437.2 189.7,442.7 190.6,432.7 191.6,445.4 192.6,434.4 193.5,443.4 194.5,435.9 195.5,445.5 196.5,436.4 197.5,445.4 198.4,435.8 199.4,449.5 200.4,440.6 201.4,446.7 202.3,436.5 203.3,446.1 204.2,435.6 205.2,446.7 206.2,436.2 207.1,447.0 208.1,438.0 209.0,444.4 210.0,437.3 210.9,446.3 211.8,435.6 212.8,444.2 213.7,435.2 214.6,446.1 215.5,439.0 216.5,446.7 217.4,435.9 218.3,447.9 219.2,438.2 220.1,450.2 221.1,437.1 222.0,450.0 222.9,440.3 223.8,449.7 224.8,438.4 225.7,451.2 226.6,440.6 227.5,448.9 228.5,440.9 229.4,450.1 230.3,439.2 231.2,445.9 232.2,437.8 233.1,449.5 234.0,436.6 234.9,448.8 235.9,435.4 236.8,446.3 237.7,435.2 238.6,444.8 239.6,437.9 240.5,444.0 241.4,436.1 242.3,446.1 243.3,433.6 244.2,443.5 245.1,433.0 246.1,440.4 247.0,432.4 247.9,442.2 248.8,432.1 249.8,438.9 250.7,431.0 251.6,438.3 252.5,428.6 253.5,436.3 254.4,430.5 255.3,436.1 256.2,426.5 257.2,437.3 258.1,425.6 259.0,437.1 259.9,426.0 260.9,431.7 261.8,424.4 262.8,435.3 263.8,430.3 264.7,440.8 265.7,433.8 266.7,443.0 267.7,438.2 268.6,450.8 269.6,444.1 270.6,452.3 271.6,444.8 272.6,451.1 273.5,443.7 274.5,450.9 275.5,440.9 276.5,451.9 277.5,441.7 278.5,449.9 279.4,442.5 280.4,451.7 281.4,440.3 282.3,449.5 283.2,441.4 284.1,451.7 285.0,438.8 286.0,447.9 286.9,439.6 287.8,449.7 288.7,439.5 289.6,448.6 290.5,437.5 291.4,449.3 292.4,437.3 293.3,447.1 294.2,437.5 295.1,446.7 296.0,436.9 297.0,441.2 297.9,428.9 298.9,432.5 299.9,422.2 300.9,424.2 301.9,412.4 302.8,416.5 303.8,407.0 304.8,417.7 305.8,410.6 306.7,423.2 307.7,413.8 308.7,425.3 309.7,417.3 310.6,432.5 311.6,424.7 312.6,433.5 313.5,425.6 314.4,437.2 315.4,425.9 316.3,437.0 317.2,427.0 318.1,436.3 319.0,427.8 320.0,435.4 320.9,427.4 321.8,435.4 322.7,427.4 323.6,437.6 324.5,428.7 325.5,434.8 326.4,428.4 327.3,438.7 328.3,426.8 329.2,433.4 330.2,424.5 331.1,436.7 332.1,423.8 333.1,433.4 334.0,423.5 335.0,432.4 336.0,424.4 336.9,432.0 337.9,417.9 338.9,425.6 339.9,414.5 340.9,421.5 341.8,414.1 342.8,418.3 343.8,414.7 344.8,422.1 345.7,415.2 346.7,425.9 347.7,420.9 348.7,428.5 349.7,423.4 350.6,434.9 351.6,425.1 352.6,434.3 353.6,426.9 354.5,437.7 355.5,429.3 356.5,438.9 357.5,429.5 358.4,441.4 359.4,431.5 360.4,441.9 361.4,432.9 362.3,443.1 363.3,434.5 364.3,441.0 365.3,430.6 366.2,439.2 367.2,428.5 368.2,437.0 369.2,424.3 370.1,433.4 371.1,420.0 372.1,430.7 373.1,419.4 374.1,430.1 375.0,422.8 376.0,432.9 377.0,423.0 378.0,436.0 379.0,428.0 379.9,434.1 380.9,430.1 381.9,436.2 382.8,430.8 383.7,434.8 384.6,428.8 385.6,434.2 386.5,425.6 387.4,435.7 388.3,423.2 389.2,436.3 390.1,423.2 391.0,435.2 391.9,425.7 392.9,430.6 393.8,420.2 394.7,430.8 395.6,422.7 396.5,431.0 397.4,420.5 398.4,428.8 399.3,419.9 400.2,426.2 401.1,419.8 402.0,426.9 402.9,414.5 403.9,427.6 404.8,414.2 405.7,426.2 406.6,415.1 407.5,421.9 408.4,411.2 409.4,422.3 410.3,411.3 411.2,418.3 412.2,415.7 413.2,426.2 414.2,418.8 415.1,433.4 416.1,424.3 417.1,436.7 418.1,431.7 419.1,444.8 420.1,429.1 421.0,438.1 422.0,428.1 423.0,433.9 424.0,421.6 424.9,427.7 425.9,418.2 426.9,423.0 427.8,411.4 428.8,416.8 429.8,411.3 430.8,424.8 431.7,414.2 432.7,425.3 433.7,419.7 434.7,428.4 435.6,422.1 436.6,434.9 437.6,428.8 438.5,436.4 439.5,426.6 440.4,436.5 441.3,427.6 442.3,435.1 443.2,427.6 444.1,438.4 445.1,427.6 446.0,435.8 446.9,426.9 447.9,434.1 448.8,427.1 449.7,434.2 450.7,427.4 451.6,434.9 452.5,427.1 453.5,437.6 454.4,427.3 455.3,434.5 456.3,425.4 457.2,434.7 458.1,422.7 459.1,429.2 460.0,418.0 460.9,426.0 461.9,418.0 462.8,424.0 463.7,414.7 464.6,427.8 465.6,415.5 466.5,423.9 467.4,416.8 468.4,424.6 469.3,414.9 470.2,424.5 471.2,418.2 472.1,426.6 473.0,416.2 473.9,426.5 474.9,417.1 475.8,428.4 476.9,414.9 477.9,423.7 479.0,410.6 480.0,416.7 481.1,406.1 482.0,417.6 482.9,408.2 483.8,419.2 484.7,413.2 485.6,425.5 486.5,417.2 487.4,429.1 488.4,420.6 489.3,433.3 490.2,425.8 491.1,435.2 492.0,431.4 492.9,442.0 493.8,431.6 494.7,443.5 495.6,432.7 496.5,446.0 497.4,436.7 498.3,445.7 499.2,435.3 500.1,443.1 501.0,436.1 502.0,443.6 502.9,437.1 503.8,441.8 504.7,436.8 505.6,443.1 506.5,436.6 507.4,442.2 508.4,430.4 509.5,437.5 510.5,426.1 511.6,432.7 512.6,418.0 513.5,428.9 514.5,424.2 515.4,435.1 516.3,423.6 517.2,438.2 518.2,428.2 519.1,438.2 520.0,432.6 521.0,443.5 521.9,432.5 522.8,444.5 523.8,435.1 524.7,445.8 525.6,439.1 526.5,451.7 527.5,443.9 528.4,453.0 529.4,443.0 530.3,450.3 531.3,435.9 532.2,445.5 533.2,434.1 534.1,438.6 535.1,430.0 536.0,436.4 537.0,426.6 537.9,431.2 538.9,420.2 539.8,434.5 540.8,428.0 541.7,442.2 542.7,432.5 543.6,446.8 544.6,440.3 545.5,454.4 546.5,447.2 547.4,460.7 548.4,450.3 549.3,456.8 550.3,444.4 551.2,452.5 552.2,438.7 553.1,447.1 554.1,438.1 555.0,446.5 556.0,433.0 556.9,441.7 557.9,429.4 558.8,439.6 559.8,426.7 560.7,437.3 561.7,427.0 562.6,433.3 563.6,426.1 564.5,430.2 565.4,424.1 566.4,432.2 567.3,421.4 568.3,428.1 569.2,419.2 570.1,427.7 571.1,415.0 572.0,421.6 573.0,411.4 573.9,422.7 574.9,408.4 575.8,417.4 576.7,412.3 577.7,423.9 578.6,417.2 579.5,427.8 580.4,419.5 581.4,433.0 582.3,423.3 583.2,437.3 584.2,430.2 585.1,441.7 586.0,433.9 587.0,443.2 587.9,440.2 588.8,449.7 589.7,442.9 590.7,451.5 591.6,451.1" fill="none" stroke="#ffbaf6" stroke-width="2.0" stroke-linejoin="round" stroke-linecap="round" />
<polyline points="91.9,541.3 102.7,528.6 110.5,521.7 117.3,507.0 123.2,531.5 132.0,495.3 139.8,521.7 146.7,502.2 154.5,531.5 162.3,502.2 174.0,526.6 179.9,502.2 185.8,524.7 191.6,497.3 198.5,526.6 206.3,492.4 210.0,505.1 215.9,529.6 224.7,518.8 229.6,510.0 236.4,490.5 243.2,528.6 253.0,489.5 265.7,528.6 271.6,500.2 280.4,518.8 286.2,511.0 295.0,516.9 303.8,501.2 312.6,538.4 320.5,497.3 327.3,526.6 333.2,497.3 340.9,495.2 345.8,519.7 352.6,497.2 361.4,529.5 367.3,502.1 372.1,516.7 376.1,494.3 381.9,525.5 387.8,506.0 403.4,515.8 412.2,501.1 423.0,495.2 429.8,536.3 437.6,508.9 445.5,498.2 452.3,523.6 460.0,512.1 467.4,487.9 481.1,533.2 488.4,506.8 497.9,496.3 506.3,531.1 513.7,481.6 521.0,501.6 532.6,525.8 542.1,485.8 548.4,534.2 560.0,493.2 565.3,517.4 573.7,498.4 582.1,525.8 591.1,480.5" fill="none" stroke="#8d1a94" stroke-width="6.0" stroke-linejoin="round" stroke-linecap="round" />
<polyline points="91.9,545.6 92.9,533.1 93.9,546.0 94.8,529.8 95.8,540.6 96.8,531.4 97.8,538.0 98.8,529.1 99.8,539.4 100.7,527.4 101.7,535.8 102.7,524.6 103.7,532.3 104.7,521.5 105.6,534.0 106.6,518.6 107.6,527.1 108.5,519.0 109.5,526.2 110.5,513.5 111.5,527.4 112.4,509.7 113.4,523.3 114.4,505.9 115.4,519.9 116.3,501.4 117.3,511.3 118.3,503.0 119.3,520.9 120.2,511.8 121.2,529.6 122.2,522.0 123.2,536.5 124.2,522.1 125.2,528.1 126.1,516.0 127.1,523.3 128.1,503.7 129.1,516.3 130.0,496.3 131.0,505.5 132.0,487.9 133.0,502.1 133.9,494.9 134.9,510.7 135.9,504.7 136.9,515.8 137.9,509.1 138.8,522.7 139.8,516.1 140.8,525.4 141.8,510.9 142.8,516.9 143.7,504.8 144.7,512.0 145.7,500.8 146.7,506.1 147.7,500.9 148.6,512.7 149.6,506.4 150.6,525.6 151.6,515.4 152.6,531.4 153.5,519.3 154.5,534.5 155.5,524.2 156.4,532.0 157.4,512.5 158.4,523.6 159.4,509.5 160.4,514.8 161.3,497.7 162.3,510.5 163.3,496.5 164.2,510.2 165.2,500.2 166.2,515.4 167.2,505.2 168.2,518.0 169.1,507.6 170.1,525.0 171.1,513.2 172.1,526.6 173.0,518.0 174.0,533.0 175.0,516.1 176.0,523.4 176.9,507.1 177.9,515.2 178.9,501.7 179.9,505.9 180.9,498.9 181.9,513.1 182.9,509.3 183.8,520.3 184.8,514.2 185.8,530.9 186.8,514.0 187.7,518.5 188.7,505.5 189.7,511.3 190.6,498.6 191.6,500.0 192.6,492.5 193.6,509.1 194.6,505.3 195.5,518.4 196.5,511.8 197.5,525.6 198.5,520.9 199.5,527.3 200.4,510.1 201.4,516.5 202.4,504.7 203.4,511.1 204.4,492.1 205.3,502.6 206.3,486.7 207.2,502.5 208.2,494.2 209.1,504.8 210.0,499.2 211.0,517.6 212.0,505.9 212.9,521.7 213.9,514.4 214.9,533.6 215.9,525.3 216.9,534.8 217.9,522.3 218.8,530.2 219.8,520.3 220.8,527.6 221.8,517.5 222.7,524.1 223.7,514.8 224.7,522.0 225.7,509.6 226.7,521.8 227.6,510.8 228.6,519.3 229.6,506.1 230.6,512.9 231.5,498.2 232.5,506.4 233.5,494.3 234.5,501.5 235.4,489.7 236.4,498.6 237.4,492.5 238.3,509.3 239.3,502.8 240.3,516.9 241.3,512.6 242.2,526.1 243.2,525.1 244.2,529.7 245.2,515.3 246.1,525.1 247.1,504.0 248.1,512.0 249.1,499.1 250.1,504.7 251.0,489.6 252.0,498.1 253.0,481.2 253.9,498.4 254.8,491.6 255.7,500.6 256.6,496.4 257.5,511.6 258.4,502.6 259.4,514.8 260.3,506.8 261.2,519.5 262.1,509.7 263.0,524.3 263.9,515.8 264.8,532.7 265.7,520.0 266.7,529.8 267.7,510.6 268.6,519.9 269.6,503.4 270.6,511.5 271.6,492.2 272.6,510.6 273.6,500.9 274.5,510.0 275.5,502.4 276.5,518.4 277.5,506.5 278.4,519.3 279.4,508.0 280.4,523.4 281.4,514.3 282.3,519.2 283.3,512.0 284.3,520.9 285.2,508.9 286.2,518.2 287.2,503.5 288.2,521.3 289.1,505.2 290.1,519.0 291.1,507.7 292.1,522.9 293.0,508.4 294.0,520.8 295.0,509.4 296.0,518.5 297.0,508.8 297.9,520.6 298.9,504.3 299.9,512.6 300.9,498.8 301.8,510.2 302.8,500.2 303.8,504.1 304.8,501.0 305.8,514.3 306.7,505.0 307.7,522.0 308.7,513.8 309.7,534.1 310.6,524.8 311.6,543.2 312.6,530.9 313.6,539.0 314.6,523.8 315.6,528.6 316.6,509.5 317.5,518.8 318.5,503.7 319.5,507.5 320.5,491.6 321.5,505.4 322.4,499.4 323.4,512.8 324.4,506.2 325.4,522.1 326.3,519.1 327.3,533.0 328.3,517.1 329.3,525.1 330.2,506.1 331.2,513.1 332.2,494.2 333.2,501.4 334.2,489.6 335.1,503.6 336.1,491.1 337.0,505.0 338.0,493.1 339.0,503.9 339.9,491.9 340.9,503.2 341.9,496.4 342.9,508.0 343.8,504.0 344.8,523.3 345.8,515.4 346.8,522.3 347.7,506.7 348.7,514.3 349.7,500.8 350.7,506.4 351.6,494.9 352.6,504.7 353.6,495.9 354.6,508.5 355.5,504.9 356.5,518.7 357.5,509.8 358.5,527.2 359.4,515.0 360.4,529.2 361.4,521.0 362.4,533.5 363.4,512.5 364.4,523.7 365.3,504.2 366.3,513.9 367.3,495.2 368.3,511.4 369.2,503.6 370.2,514.4 371.1,506.5 372.1,523.2 373.1,508.0 374.1,512.2 375.1,493.4 376.1,500.2 377.1,491.9 378.0,512.9 379.0,504.8 380.0,522.9 380.9,514.5 381.9,531.8 382.9,516.9 383.9,527.6 384.9,510.2 385.8,521.2 386.8,504.4 387.8,512.9 388.7,498.1 389.6,514.2 390.6,502.7 391.5,511.5 392.4,503.2 393.3,514.8 394.2,502.2 395.1,518.3 396.1,502.3 397.0,517.3 397.9,507.1 398.8,519.2 399.7,506.1 400.6,517.3 401.6,510.6 402.5,518.8 403.4,511.1 404.4,518.8 405.4,503.7 406.3,514.9 407.3,500.7 408.3,512.2 409.3,502.0 410.2,513.2 411.2,499.5 412.2,504.5 413.1,497.1 414.0,503.2 414.9,494.5 415.8,503.2 416.7,494.9 417.6,500.9 418.5,490.6 419.4,500.2 420.3,492.5 421.2,502.4 422.1,487.4 423.0,502.1 424.0,493.9 424.9,514.1 425.9,505.1 426.9,526.8 427.9,520.9 428.8,533.5 429.8,529.7 430.8,538.8 431.8,523.5 432.7,533.7 433.7,518.8 434.7,526.3 435.7,510.4 436.6,517.7 437.6,504.7 438.6,512.0 439.6,499.9 440.6,511.1 441.6,495.1 442.5,506.7 443.5,493.7 444.5,502.8 445.5,491.4 446.5,505.5 447.4,497.4 448.4,517.9 449.4,508.4 450.4,524.1 451.3,515.9 452.3,528.2 453.3,518.8 454.2,526.2 455.2,515.9 456.1,525.0 457.1,510.1 458.1,520.3 459.0,506.4 460.0,516.3 460.9,504.3 461.9,511.0 462.8,500.3 463.7,508.3 464.6,493.7 465.5,497.3 466.5,483.2 467.4,495.8 468.3,485.4 469.2,499.3 470.1,493.4 471.1,502.7 472.0,497.0 472.9,510.3 473.8,505.4 474.7,520.5 475.6,512.3 476.5,523.1 477.4,513.7 478.4,531.5 479.3,523.8 480.2,537.6 481.1,527.0 482.0,536.6 482.9,518.0 483.8,531.0 484.8,513.5 485.7,524.3 486.6,507.6 487.5,516.3 488.4,499.0 489.3,512.4 490.3,499.6 491.2,506.5 492.2,494.9 493.1,506.4 494.1,495.1 495.0,504.0 496.0,492.2 496.9,502.6 497.9,488.3 498.8,506.6 499.8,497.8 500.7,515.5 501.6,506.3 502.6,521.7 503.5,512.1 504.4,530.6 505.4,519.8 506.3,539.4 507.2,518.7 508.2,524.9 509.1,508.7 510.0,510.6 510.9,494.7 511.9,499.8 512.8,479.4 513.7,484.6 514.6,479.2 515.5,494.0 516.4,483.5 517.4,499.6 518.3,490.4 519.2,504.2 520.1,493.7 521.0,507.9 522.0,500.6 522.9,510.9 523.9,499.9 524.9,517.0 525.8,505.4 526.8,519.1 527.8,512.8 528.7,524.8 529.7,514.2 530.7,529.0 531.6,517.2 532.6,531.0 533.6,513.6 534.5,521.3 535.5,505.1 536.4,513.0 537.4,497.0 538.3,508.2 539.2,492.3 540.2,502.4 541.1,483.9 542.1,491.7 543.1,490.8 544.2,509.7 545.2,503.3 546.3,522.3 547.4,522.7 548.4,539.5 549.4,522.2 550.3,535.6 551.3,518.3 552.3,523.5 553.2,509.2 554.2,517.7 555.2,503.0 556.1,512.7 557.1,494.7 558.1,503.7 559.0,488.9 560.0,500.4 561.1,495.2 562.1,509.1 563.2,503.2 564.2,519.6 565.3,508.6 566.2,522.2 567.2,507.4 568.1,517.6 569.0,504.7 570.0,512.5 570.9,501.3 571.8,509.9 572.8,497.4 573.7,504.4 574.6,497.6 575.6,510.7 576.5,504.5 577.4,513.5 578.4,507.0 579.3,523.9 580.2,511.4 581.2,529.7 582.1,516.8 583.0,524.9 583.9,510.1 584.8,518.9 585.7,503.9 586.6,506.7 587.5,494.4 588.4,500.1 589.3,481.9 590.2,492.2 591.1,480.5" fill="none" stroke="#8d1a94" stroke-width="2.0" stroke-linejoin="round" stroke-linecap="round" />
<polyline points="756.2,715.0 756.3,600.0 756.5,560.0" fill="none" stroke="#ffbaf6" stroke-width="4" stroke-linejoin="round" stroke-linecap="round" />
<polyline points="756.5,562.1 757.7,544.8 758.9,541.1 759.7,529.4 760.5,530.0 761.3,518.6 762.1,522.4 762.9,509.9 764.1,488.3 765.3,454.5 766.1,453.3 766.9,443.9 767.7,445.2 768.5,434.9 769.3,438.0 770.1,428.5 770.9,430.3 771.8,423.5 772.6,427.2 773.4,415.3 774.2,421.1 775.1,417.9 776.1,428.3 777.0,429.1 777.9,440.1 778.9,440.1 779.8,451.9 779.8,389.5 780.6,382.2 781.5,363.7 782.7,358.5 783.9,332.7 784.8,346.8 785.7,323.6 786.6,333.3 787.5,311.7 788.3,319.4 789.2,303.3 790.1,313.0 791.0,289.0 791.8,308.3 792.6,293.7 793.5,314.5 794.3,292.0 795.1,317.0 795.9,297.7 796.7,319.9 797.5,302.5 798.3,320.3 799.2,309.3 800.0,331.2 800.8,316.3 801.6,335.2 802.4,311.9 803.2,332.4 804.0,318.5 804.8,334.6 805.6,320.2 806.4,341.5 807.2,322.0 808.0,334.5 808.8,326.5 809.6,342.6 810.4,320.2 811.2,342.5 812.0,326.6 812.8,344.9 813.6,326.3 814.5,343.9 815.3,329.6 816.1,349.0 816.9,331.4 817.7,347.5 818.6,337.6 819.4,351.1 820.2,332.7 821.0,353.1 821.8,337.7 822.7,354.7 823.5,344.2 824.3,354.5 825.1,335.8 826.0,355.3 826.8,334.1 827.7,348.7 828.5,325.7 829.4,344.9 830.2,317.4 831.0,338.2 831.9,318.2 832.7,344.4 833.6,323.0 834.4,344.8 835.2,325.1 836.1,341.3 836.9,328.4 837.7,347.0 838.6,330.3 839.4,340.8 840.3,325.6 841.1,348.4 841.9,329.7 842.8,350.1 843.6,334.8 844.4,346.0 845.3,333.7 846.1,348.6 847.0,336.0 847.8,346.5 848.6,334.5 849.4,353.1 850.2,327.7 851.0,350.7 851.9,331.2 852.7,345.2 853.5,325.9 854.3,346.7 855.1,327.0 855.9,341.2 856.7,330.7 857.5,347.5 858.4,324.4 859.2,346.9 860.0,325.1 860.8,341.8 861.6,324.3 862.4,344.6 863.2,325.8 864.0,340.8 864.9,325.1 865.7,341.9 866.5,326.5 867.3,340.1 868.1,320.3 868.9,339.9 869.8,329.4 870.6,351.4 871.4,332.9 872.2,356.7 873.0,344.2 873.8,360.9 874.6,343.6 875.5,371.3 876.3,357.0 877.1,369.8 878.0,356.4 878.8,361.4 879.7,345.4 880.6,354.6 881.4,333.8 882.3,351.5 883.2,332.7 884.0,342.7 884.9,323.1 885.8,342.3 886.6,331.9 887.5,347.1 888.4,340.0 889.2,356.8 890.1,343.0 891.0,366.1 891.8,356.8 892.7,375.4 893.5,351.7 894.3,373.1 895.2,349.7 896.0,363.3 896.8,349.8 897.6,361.0 898.4,344.2 899.2,359.2 900.0,341.9 900.9,357.0 901.7,339.2 902.5,354.8 903.3,343.5 904.1,355.0 904.9,340.7 905.7,359.3 906.6,340.4 907.4,355.2 908.2,337.7 909.0,358.9 909.8,341.3 910.6,355.3 911.4,337.2 912.2,356.1 913.0,332.6 913.8,351.8 914.7,334.6 915.5,353.4 916.3,335.5 917.1,348.8 917.9,332.8 918.7,356.7 919.5,336.5 920.3,350.2 921.1,330.3 921.9,347.9 922.8,338.2 923.6,347.2 924.4,331.1 925.2,353.0 926.0,334.0 926.8,351.1 927.6,337.0 928.4,350.3 929.2,332.1 930.0,348.2 930.8,331.7 931.6,346.2 932.5,332.2 933.3,342.0 934.1,329.3 934.9,342.8 935.7,325.9 936.5,347.1 937.3,324.8 938.1,342.8 938.9,328.2 939.7,341.2 940.5,325.0 941.3,342.5 942.1,319.7 942.9,336.5 943.8,323.1 944.6,339.3 945.4,320.0 946.2,341.9 947.0,318.5 947.8,338.6 948.6,317.7 949.4,338.0 950.2,316.6 951.0,338.9 951.9,318.8 952.7,335.4 953.5,317.3 954.3,337.3 955.1,320.7 956.0,341.9 956.8,318.2 957.6,344.1 958.4,327.5 959.3,338.5 960.1,325.4 960.9,339.9 961.7,327.5 962.5,342.0 963.4,328.7 964.2,340.3 965.0,321.5 965.9,347.5 966.8,331.7 967.6,347.6 968.5,333.0 969.4,358.8 970.3,345.6 971.1,361.2 972.0,347.4 972.9,370.1 973.7,352.7 974.5,370.6 975.3,350.2 976.1,362.2 976.9,343.4 977.8,359.3 978.6,342.9 979.4,357.7 980.2,341.7 981.0,356.4 981.8,341.7 982.6,360.5 983.4,341.1 984.3,358.3 985.1,342.1 986.0,359.3 986.8,348.6 987.7,362.7 988.5,350.1 989.3,363.3 990.2,346.3 991.0,364.4 991.9,350.1 992.7,375.0 993.6,353.5 994.4,369.1 995.2,358.5 996.1,373.1 996.9,361.4 997.7,383.0 998.6,368.6 999.4,380.5 1000.2,369.6 1001.1,385.2 1001.9,375.6 1002.8,392.3 1003.6,374.2 1004.4,395.4 1005.3,384.9 1006.1,403.1 1006.9,378.6 1007.8,396.7 1008.6,381.7 1009.4,389.6 1010.3,374.4 1011.1,388.9 1011.9,372.1 1012.8,387.2 1013.6,362.4 1014.5,384.3 1015.3,358.1 1016.1,372.1 1017.0,356.8 1017.8,368.6 1018.6,349.9 1019.5,370.7 1020.3,347.2 1021.1,367.0 1021.9,360.4 1022.8,379.5 1023.6,362.2 1024.4,384.5 1025.3,362.1 1026.1,376.8 1027.0,353.9 1027.9,362.5 1028.8,344.3 1029.6,353.3 1030.5,332.4 1031.3,355.0 1032.1,339.4 1032.9,349.4 1033.7,337.3 1034.6,356.9 1035.4,342.1 1036.2,355.1 1037.0,345.2 1037.8,354.9 1038.6,343.2 1039.4,362.7 1040.2,343.7 1041.1,359.8 1041.9,350.6 1042.7,368.8 1043.5,348.6 1044.3,365.9 1045.1,349.1 1045.9,370.8 1046.7,352.5 1047.6,366.8 1048.4,351.7 1049.2,369.9 1050.0,360.8 1050.8,373.1 1051.6,355.3 1052.4,371.6 1053.2,354.5 1054.0,368.4 1054.8,347.6 1055.6,359.4 1056.4,340.4 1057.3,361.2 1058.1,335.9 1058.9,356.1 1059.7,338.1 1060.5,353.0 1061.3,327.9 1062.1,346.8 1062.9,323.8 1063.8,350.9 1064.6,332.9 1065.5,355.0 1066.3,332.2 1067.2,358.0 1068.0,345.0 1068.8,358.3 1069.7,343.8 1070.5,364.9 1071.4,346.9 1072.2,369.6 1073.1,356.6 1073.9,372.1 1074.7,348.7 1075.5,367.1 1076.4,347.2 1077.2,363.6 1078.0,339.5 1078.8,357.1 1079.6,333.2 1080.4,353.5 1081.2,332.1 1082.0,341.7 1082.9,327.2 1083.7,338.1 1084.5,321.5 1085.3,339.3 1086.1,320.8 1086.9,333.2 1087.7,324.0 1088.5,335.9 1089.4,319.0 1090.2,332.4 1091.0,318.4 1091.8,334.2 1092.6,323.5 1093.4,340.8 1094.2,319.8 1095.0,340.6 1095.8,320.0 1096.7,333.6 1097.5,322.6 1098.3,336.5 1099.1,319.0 1099.9,339.7 1100.7,318.1 1101.5,338.7 1102.3,322.7 1103.1,336.8 1104.0,321.7 1104.8,337.4 1105.6,322.8 1106.4,337.9 1107.2,321.1 1108.0,333.5 1108.8,317.9 1109.6,338.6 1110.4,318.2 1111.3,340.0 1112.1,318.9 1112.9,342.5 1113.7,322.2 1114.5,337.1 1115.3,325.7 1116.1,339.6 1116.9,320.5 1117.7,338.9 1118.6,316.8 1119.4,335.6 1120.2,323.9 1121.0,340.5 1121.8,318.7 1122.6,339.9 1123.5,328.9 1124.3,342.2 1125.1,325.2 1126.0,346.7 1126.8,331.8 1127.6,349.0 1128.5,333.6 1129.3,354.2 1130.2,336.3 1131.0,359.9 1131.8,339.0 1132.7,358.7 1133.5,346.9 1134.3,365.7 1135.2,345.2 1136.0,370.3 1136.8,351.2 1137.6,367.4 1138.4,342.7 1139.3,358.2 1140.1,345.8 1140.9,361.1 1141.7,345.1 1142.5,360.7 1143.3,341.8 1144.2,357.1 1145.0,339.3 1145.8,350.7 1146.6,337.9 1147.4,351.0 1148.2,331.1 1149.0,346.3 1149.9,329.2 1150.7,345.1 1151.5,327.3 1152.3,343.3 1153.2,332.9 1154.0,346.3 1154.9,339.3 1155.7,356.5 1156.6,341.2 1157.4,356.5 1158.3,342.1 1159.2,361.3 1160.0,344.8 1160.9,356.8 1161.8,334.4 1162.7,349.1 1163.5,330.1 1164.4,348.7 1165.2,331.1 1166.0,350.5 1166.8,333.5 1167.7,352.8 1168.5,340.9 1169.3,361.2 1170.1,343.1 1170.9,363.3 1171.7,349.0 1172.5,365.9 1173.3,351.3 1174.2,368.9 1175.0,357.4 1175.8,377.6 1176.6,366.1 1177.4,379.6 1178.3,359.5 1179.1,371.8 1179.9,357.1 1180.8,369.2 1181.6,351.0 1182.4,367.4 1183.3,352.0 1184.1,363.1 1184.9,351.3 1185.8,359.6 1186.6,347.1 1187.4,360.3 1188.2,337.5 1189.1,353.4 1189.9,340.9 1190.7,352.9 1191.6,337.6 1192.4,348.5 1193.2,328.4 1194.1,343.4 1194.9,325.7 1195.7,344.3 1196.6,330.4 1197.4,340.7 1198.2,324.8 1199.1,338.4 1199.9,327.4 1200.7,341.9 1201.6,320.9 1202.4,340.4 1203.3,321.4 1204.1,334.8 1204.9,323.7 1205.8,336.7 1206.6,317.2 1207.4,336.1 1208.3,317.4 1209.1,332.2 1209.9,319.8 1210.8,340.6 1211.6,317.9 1212.4,338.3 1213.3,323.8 1214.1,342.0 1214.9,325.3 1215.8,342.9 1216.6,319.5 1217.4,341.2 1218.2,322.3 1219.1,336.7 1219.9,324.5 1220.7,341.8 1221.6,322.2 1222.4,339.8 1223.2,321.4 1224.1,337.3 1224.9,326.7 1225.7,338.2 1226.6,326.9 1227.4,345.1 1228.2,325.3 1229.0,343.4 1229.8,333.4 1230.6,347.1 1231.5,334.3 1232.3,354.2 1233.1,342.3 1233.9,357.7 1234.7,340.7 1235.5,362.3 1236.3,346.4 1237.1,368.2 1237.9,352.4 1238.7,371.7 1239.5,357.5 1240.4,372.5 1241.2,360.5 1242.0,377.6 1242.8,366.0 1243.6,380.6 1244.4,359.7 1245.2,376.5 1246.0,359.9 1246.9,366.7 1247.7,353.5 1248.5,368.0 1249.3,346.1 1250.1,359.9 1250.9,340.8 1251.7,353.5 1252.5,332.5 1253.4,348.0 1254.2,325.6 1255.0,338.4 1255.8,321.6 1256.8,342.8 1257.8,339.0" fill="none" stroke="#ffbaf6" stroke-width="3.8" stroke-linejoin="round" stroke-linecap="round" />
<polyline points="773.4,708.7 773.4,681.3 775.8,657.1 777.4,643.4 782.3,643.4 783.9,623.2 789.5,623.2 789.5,584.5 791.1,582.1 791.1,544.2 792.7,536.1 793.5,528.1 798.4,522.4 803.2,513.3 808.9,510.5 808.9,472.0 816.4,471.0 818.3,467.3 827.7,467.3 830.5,461.6 835.2,461.6 838.9,468.2 852.1,468.2 853.0,457.9 862.4,457.9 864.3,461.6 882.2,461.6 884.1,468.2 891.6,472.9 900.0,464.4 901.9,457.9 919.8,457.9 927.3,468.2 932.9,468.2 934.8,461.6 955.5,461.6 961.1,472.0 964.9,468.2 976.2,468.2 978.0,472.9 989.3,470.1 996.8,477.6 1004.4,477.6 1006.1,468.2 1015.2,468.2 1019.3,473.2 1028.4,473.2 1029.4,462.1 1032.5,462.1 1034.5,472.2 1049.7,472.2 1054.8,458.0 1065.0,457.0 1066.0,418.4 1070.0,416.4 1072.1,411.3 1098.5,411.3 1100.5,417.4 1119.8,417.4 1121.8,428.6 1123.8,417.4 1136.0,417.4 1139.1,428.6 1142.1,422.5 1164.4,422.5 1166.5,428.6 1171.5,417.4 1176.6,417.4 1178.6,421.5 1190.8,421.5 1191.8,427.6 1192.9,421.5 1213.2,421.5 1216.2,432.6 1236.5,432.6 1238.5,421.5 1245.6,418.4 1257.8,417.4" fill="none" stroke="#ff2a8c" stroke-width="4" stroke-linejoin="round" stroke-linecap="round" />
<polyline points="757.0,716.0 760.0,710.0 763.0,708.8 1171.7,708.8 1172.1,684.4 1213.2,683.5 1215.9,658.7 1239.4,658.2 1239.8,633.8 1247.5,633.8 1252.0,624.4 1258.3,618.1" fill="none" stroke="#8d1a94" stroke-width="4" stroke-linejoin="round" stroke-linecap="round" />
<polyline points="91.0,1074.2 503.5,1074.2" fill="none" stroke="#ffbaf6" stroke-width="4.6" stroke-linejoin="round" stroke-linecap="round" />
<polyline points="503.5,1076.5 504.8,1074.7 506.0,1083.0 507.0,1088.2 508.0,1101.8 509.0,1109.3 510.0,1120.2 511.0,1115.1 512.0,1118.0 513.0,1113.1 514.0,1118.2 515.0,1115.9 516.0,1123.5 517.0,1119.3 518.0,1129.1 519.0,1129.1 520.0,1131.1 521.0,1125.6 522.0,1123.8 523.0,1113.2 524.0,1121.8 525.0,1121.5 526.0,1131.9 527.0,1131.6 528.0,1131.9 529.0,1120.8 530.0,1120.6 531.0,1120.0 532.0,1127.8 533.0,1126.8 534.0,1134.0 535.0,1136.6 536.0,1145.2 537.0,1148.0 538.0,1142.8 539.0,1131.3 540.0,1128.1 541.0,1128.4 542.0,1140.8 543.0,1144.3 544.0,1154.4 545.0,1158.2 546.0,1167.8 547.0,1170.6 548.0,1182.6 549.0,1198.9 550.0,1208.5 551.0,1210.4 552.0,1220.8 553.0,1223.6 554.0,1229.3 555.0,1228.4 556.0,1234.7 557.0,1228.9 558.0,1233.6 559.0,1228.5 560.0,1233.4 561.0,1213.0 562.0,1201.5 563.0,1183.0 564.0,1191.6 565.0,1190.2 566.0,1197.9 567.0,1190.1 568.0,1194.9 569.0,1188.0 570.0,1190.8 571.0,1183.8 572.0,1197.5 573.0,1199.3 574.0,1211.5 575.0,1219.1 576.0,1236.2 577.0,1243.4 578.0,1250.9 579.0,1250.6 580.0,1260.4 581.0,1249.3 582.0,1246.9 583.0,1236.3 584.0,1245.7 585.0,1248.7 586.0,1262.0 587.0,1268.6 588.0,1274.2 589.0,1268.6 590.0,1273.0" fill="none" stroke="#ffbaf6" stroke-width="4.0" stroke-linejoin="round" stroke-linecap="round" />
<polyline points="91.0,1571.5 503.5,1571.5" fill="none" stroke="#ff2a8c" stroke-width="4.4" stroke-linejoin="round" stroke-linecap="round" />
<polyline points="503.5,1574.3 504.6,1559.1 505.8,1552.2 506.9,1536.7 508.0,1528.9 509.4,1522.0 510.8,1524.1 511.9,1520.1 513.0,1522.8 514.2,1518.2 515.3,1523.7 516.3,1517.8 517.4,1518.5 518.5,1513.8 519.5,1516.0 520.5,1509.8 521.6,1512.3 522.6,1511.4 523.7,1517.7 524.8,1518.0 525.8,1523.2 526.9,1523.0 527.9,1530.0 529.0,1521.0 530.1,1521.3 531.3,1512.1 532.4,1510.5 533.5,1510.5 534.6,1518.7 535.6,1517.7 536.7,1524.2 537.8,1524.3 539.0,1519.1 540.2,1505.9 541.4,1499.4 542.4,1498.6 543.5,1506.1 544.5,1504.9 545.6,1510.9 546.6,1511.5 547.7,1517.0 548.7,1517.1 550.5,1471.1 551.6,1460.4 552.7,1461.2 553.7,1452.0 554.8,1450.9 555.9,1441.1 557.1,1444.9 558.3,1441.0 559.5,1444.5 560.6,1445.2 561.8,1453.5 562.9,1454.7 564.0,1463.7 565.1,1457.3 566.2,1458.6 567.4,1454.8 568.5,1456.1 569.7,1454.3 570.9,1459.2 572.1,1457.0 573.9,1414.3 575.0,1409.2 576.1,1411.7 577.2,1406.8 578.3,1408.3 579.4,1402.8 580.5,1410.9 581.6,1410.8 582.6,1421.1 583.7,1419.5 584.8,1429.7 585.8,1417.2 586.9,1415.5 588.0,1404.0 589.0,1401.8 588.0,1384.0 589.0,1383.1 590.1,1372.7 591.1,1370.8" fill="none" stroke="#ff2a8c" stroke-width="3.8" stroke-linejoin="round" stroke-linecap="round" />
<circle cx="92.8" cy="1571.4" r="3.9" fill="#8a0a48"/>
<circle cx="110.6" cy="1571.4" r="3.9" fill="#8a0a48"/>
<circle cx="128.4" cy="1571.4" r="3.9" fill="#8a0a48"/>
<circle cx="146.2" cy="1571.4" r="3.9" fill="#8a0a48"/>
<circle cx="164.0" cy="1571.4" r="3.9" fill="#8a0a48"/>
<circle cx="181.8" cy="1571.4" r="3.9" fill="#8a0a48"/>
<circle cx="199.6" cy="1571.4" r="3.9" fill="#8a0a48"/>
<circle cx="217.4" cy="1571.4" r="3.9" fill="#8a0a48"/>
<circle cx="235.2" cy="1571.4" r="3.9" fill="#8a0a48"/>
<circle cx="253.0" cy="1571.4" r="3.9" fill="#8a0a48"/>
<circle cx="270.8" cy="1571.4" r="3.9" fill="#8a0a48"/>
<circle cx="288.6" cy="1571.4" r="3.9" fill="#8a0a48"/>
<circle cx="306.4" cy="1571.4" r="3.9" fill="#8a0a48"/>
<circle cx="324.2" cy="1571.4" r="3.9" fill="#8a0a48"/>
<circle cx="342.0" cy="1571.4" r="3.9" fill="#8a0a48"/>
<circle cx="359.8" cy="1571.4" r="3.9" fill="#8a0a48"/>
<circle cx="377.6" cy="1571.4" r="3.9" fill="#8a0a48"/>
<circle cx="395.4" cy="1571.4" r="3.9" fill="#8a0a48"/>
<circle cx="413.2" cy="1571.4" r="3.9" fill="#8a0a48"/>
<circle cx="431.0" cy="1571.4" r="3.9" fill="#8a0a48"/>
<circle cx="448.8" cy="1571.4" r="3.9" fill="#8a0a48"/>
<circle cx="466.6" cy="1571.4" r="3.9" fill="#8a0a48"/>
<circle cx="484.4" cy="1571.4" r="3.9" fill="#8a0a48"/>
<circle cx="502.2" cy="1571.4" r="3.9" fill="#8a0a48"/>
<circle cx="520.0" cy="1571.4" r="3.9" fill="#8a0a48"/>
<circle cx="537.8" cy="1571.4" r="3.9" fill="#8a0a48"/>
<circle cx="555.6" cy="1571.4" r="3.9" fill="#8a0a48"/>
<circle cx="573.4" cy="1571.4" r="3.9" fill="#8a0a48"/>
<path d="M753.4,1575.0 C754.0,1569.3 754.7,1545.2 756.8,1541.0 C758.9,1536.8 762.4,1548.9 765.8,1550.0 C769.2,1551.1 770.6,1545.1 777.0,1547.8 C783.4,1550.5 798.5,1564.4 804.1,1565.9 C809.8,1567.4 807.9,1556.9 810.9,1556.9 C813.9,1556.9 818.1,1565.5 822.2,1565.9 C826.3,1566.3 831.6,1563.6 835.7,1559.1 C839.8,1554.6 841.0,1543.3 847.0,1538.8 C853.0,1534.3 866.2,1530.5 871.8,1532.0 C877.4,1533.5 875.5,1545.5 880.8,1547.8 C886.1,1550.1 897.4,1543.3 903.4,1545.6 C909.4,1547.9 912.4,1559.5 916.9,1561.4 C921.4,1563.3 926.7,1561.0 930.5,1556.9 C934.3,1552.8 935.4,1543.4 939.5,1536.6 C943.6,1529.8 950.8,1517.4 955.3,1516.3 C959.8,1515.2 963.2,1524.2 966.6,1529.8 C970.0,1535.4 971.9,1545.9 975.6,1550.0 C979.4,1554.1 982.3,1555.3 989.1,1554.6 C995.9,1553.9 1009.4,1544.8 1016.2,1545.6 C1023.0,1546.3 1024.4,1557.6 1029.7,1559.1 C1035.0,1560.6 1043.7,1554.1 1048.0,1554.6 C1052.3,1555.0 1050.5,1563.6 1055.3,1561.8 C1060.1,1560.0 1071.2,1547.3 1076.9,1543.7 C1082.6,1540.1 1085.3,1538.0 1089.5,1540.1 C1093.7,1542.2 1098.0,1551.9 1102.2,1556.4 C1106.4,1560.9 1110.6,1566.3 1114.8,1567.2 C1119.0,1568.1 1122.3,1565.7 1127.4,1561.8 C1132.5,1557.9 1140.7,1548.2 1145.5,1543.7 C1150.3,1539.2 1151.5,1532.9 1156.3,1534.7 C1161.1,1536.5 1169.0,1550.4 1174.4,1554.6 C1179.8,1558.8 1184.0,1560.6 1188.8,1560.0 C1193.6,1559.4 1196.6,1550.1 1203.2,1551.0 C1209.8,1551.9 1220.7,1566.6 1228.5,1565.4 C1236.3,1564.2 1246.5,1547.3 1250.1,1543.7" fill="none" stroke="#5cffff" stroke-width="4" stroke-linejoin="round" stroke-linecap="round" />
<path d="M752.3,1511.7 C752.7,1492.2 753.0,1412.8 754.5,1394.4 C756.0,1376.0 759.0,1395.6 761.3,1401.2 C763.5,1406.8 765.0,1414.8 768.0,1428.3 C771.0,1441.8 775.5,1476.8 779.3,1482.4 C783.1,1488.0 787.6,1462.8 790.6,1462.1 C793.6,1461.3 794.8,1477.2 797.4,1477.9 C800.0,1478.7 802.6,1470.7 806.4,1466.6 C810.1,1462.5 815.0,1453.8 819.9,1453.1 C824.8,1452.3 828.6,1460.6 835.7,1462.1 C842.9,1463.6 856.8,1456.8 862.8,1462.1 C868.8,1467.4 868.0,1486.9 871.8,1493.7 C875.5,1500.5 880.4,1502.0 885.3,1502.7 C890.2,1503.5 897.3,1504.6 901.1,1498.2 C904.9,1491.8 905.6,1473.1 907.9,1464.4 C910.2,1455.8 911.7,1452.7 914.7,1446.3 C917.7,1439.9 922.2,1429.8 926.0,1426.0 C929.8,1422.2 933.5,1418.5 937.2,1423.8 C941.0,1429.1 943.6,1449.7 948.5,1457.6 C953.4,1465.5 962.1,1472.2 966.6,1471.1 C971.1,1470.0 972.2,1456.4 975.6,1450.8 C979.0,1445.2 983.1,1435.8 986.9,1437.3 C990.6,1438.8 994.0,1452.4 998.1,1459.9 C1002.2,1467.4 1007.6,1481.3 1011.7,1482.4 C1015.9,1483.5 1018.8,1470.2 1023.0,1466.6 C1027.2,1463.0 1031.8,1458.7 1037.2,1460.7 C1042.6,1462.7 1050.5,1473.1 1055.3,1478.8 C1060.1,1484.5 1063.1,1493.2 1066.1,1495.0 C1069.1,1496.8 1070.6,1488.7 1073.3,1489.6 C1076.0,1490.5 1079.6,1501.6 1082.3,1500.4 C1085.0,1499.2 1087.1,1486.3 1089.5,1482.4 C1091.9,1478.5 1094.4,1484.5 1096.8,1477.0 C1099.2,1469.5 1101.3,1443.6 1104.0,1437.3 C1106.7,1431.0 1109.7,1437.9 1113.0,1439.1 C1116.3,1440.3 1119.6,1442.1 1123.8,1444.5 C1128.0,1446.9 1134.1,1445.1 1138.3,1453.5 C1142.5,1461.9 1144.6,1489.0 1149.1,1495.0 C1153.6,1501.0 1160.2,1490.2 1165.3,1489.6 C1170.4,1489.0 1175.9,1495.9 1179.8,1491.4 C1183.7,1486.9 1184.6,1465.8 1188.8,1462.5 C1193.0,1459.2 1201.1,1472.5 1205.0,1471.6 C1208.9,1470.7 1210.1,1458.3 1212.2,1457.1 C1214.3,1455.9 1214.7,1466.2 1217.7,1464.4 C1220.7,1462.6 1225.8,1447.2 1230.3,1446.3 C1234.8,1445.4 1241.2,1452.0 1244.7,1458.9 C1248.2,1465.8 1250.0,1483.0 1251.0,1487.8" fill="none" stroke="#ff8cff" stroke-width="4" stroke-linejoin="round" stroke-linecap="round" />
<path d="M752.0,1400.0 C752.2,1395.7 752.6,1375.3 753.4,1374.0 C754.2,1372.7 755.1,1389.7 756.8,1392.0 C758.5,1394.3 760.9,1387.7 763.5,1387.7 C766.1,1387.7 768.8,1390.7 772.6,1392.2 C776.4,1393.7 782.0,1398.6 786.1,1396.7 C790.2,1394.8 794.4,1382.1 797.4,1381.0 C800.4,1379.9 800.7,1385.5 804.1,1390.0 C807.5,1394.5 813.2,1403.5 817.7,1408.0 C822.2,1412.5 827.5,1413.6 831.2,1417.0 C835.0,1420.4 837.2,1426.4 840.2,1428.3 C843.2,1430.2 845.9,1432.1 849.3,1428.3 C852.7,1424.5 857.1,1414.3 860.5,1405.7 C863.9,1397.1 865.8,1383.4 869.6,1376.4 C873.4,1369.5 879.4,1364.4 883.1,1364.0 C886.9,1363.6 889.1,1372.4 892.1,1374.1 C895.1,1375.8 898.5,1371.1 901.1,1374.1 C903.7,1377.1 905.3,1385.0 907.9,1392.2 C910.5,1399.4 913.5,1409.1 916.9,1417.0 C920.3,1424.9 924.1,1434.0 928.2,1439.6 C932.3,1445.2 938.3,1451.9 941.7,1450.8 C945.1,1449.7 944.4,1438.8 948.5,1432.8 C952.6,1426.8 961.7,1419.2 966.6,1414.7 C971.5,1410.2 974.4,1402.7 977.8,1405.7 C981.2,1408.7 983.5,1428.3 986.9,1432.8 C990.3,1437.3 992.5,1433.9 998.1,1432.8 C1003.7,1431.7 1016.2,1429.8 1020.7,1426.0 C1025.2,1422.2 1022.6,1412.1 1025.2,1410.2 C1027.8,1408.3 1034.2,1413.8 1036.5,1414.7 C1038.8,1415.6 1036.2,1417.2 1039.0,1415.6 C1041.8,1413.9 1049.4,1410.5 1053.5,1404.8 C1057.6,1399.1 1060.4,1383.4 1063.4,1381.3 C1066.4,1379.2 1068.3,1390.7 1071.5,1392.2 C1074.7,1393.7 1079.3,1388.9 1082.3,1390.4 C1085.3,1391.9 1087.5,1400.6 1089.5,1401.2 C1091.5,1401.8 1091.7,1387.7 1094.1,1394.0 C1096.5,1400.3 1101.2,1433.4 1104.0,1439.1 C1106.8,1444.8 1107.9,1434.6 1111.2,1428.3 C1114.5,1422.0 1120.5,1409.0 1123.8,1401.2 C1127.1,1393.4 1128.6,1381.9 1131.0,1381.3 C1133.4,1380.7 1135.4,1399.4 1138.3,1397.6 C1141.2,1395.8 1145.2,1372.0 1148.2,1370.5 C1151.2,1369.0 1153.2,1382.3 1156.3,1388.6 C1159.4,1394.9 1163.2,1407.5 1167.1,1408.4 C1171.0,1409.3 1175.6,1398.8 1179.8,1394.0 C1184.0,1389.2 1189.1,1376.5 1192.4,1379.5 C1195.7,1382.5 1197.2,1407.5 1199.6,1412.0 C1202.0,1416.5 1202.6,1405.1 1206.8,1406.6 C1211.0,1408.1 1220.7,1421.3 1224.9,1421.0 C1229.1,1420.7 1229.4,1405.4 1232.1,1404.8 C1234.8,1404.2 1237.9,1418.0 1241.1,1417.4 C1244.2,1416.8 1249.3,1403.9 1251.0,1401.2" fill="none" stroke="#0a168e" stroke-width="4.2" stroke-linejoin="round" stroke-linecap="round" />
<path d="M752.3,1394.4 C753.0,1410.6 755.5,1475.6 756.8,1491.4 C758.1,1507.2 758.9,1495.1 760.0,1489.0 C761.1,1482.9 761.8,1467.0 763.5,1455.0 C765.2,1443.0 768.0,1426.0 770.3,1417.0 C772.5,1408.0 775.1,1406.7 777.0,1401.0 C778.9,1395.3 779.7,1384.5 781.6,1383.0 C783.5,1381.5 785.7,1392.7 788.3,1392.0 C790.9,1391.3 794.4,1380.4 797.4,1378.6 C800.4,1376.8 803.4,1381.4 806.4,1381.0 C809.4,1380.6 812.4,1379.1 815.4,1376.4 C818.4,1373.8 821.0,1368.3 824.4,1365.1 C827.8,1361.9 832.3,1356.8 835.7,1357.2 C839.1,1357.6 841.3,1362.3 844.7,1367.4 C848.1,1372.5 853.0,1382.4 856.0,1387.7 C859.0,1393.0 860.5,1395.8 862.8,1399.0 C865.1,1402.2 867.0,1407.2 869.6,1406.8 C872.2,1406.4 876.0,1400.3 878.6,1396.7 C881.2,1393.1 882.7,1388.4 885.3,1385.4 C887.9,1382.4 891.0,1377.8 894.4,1378.6 C897.8,1379.4 901.5,1390.4 905.6,1390.0 C909.7,1389.6 915.1,1377.9 919.2,1376.4 C923.4,1374.9 927.7,1376.5 930.5,1381.0 C933.3,1385.5 933.5,1402.4 936.1,1403.5 C938.7,1404.6 942.7,1388.8 946.3,1387.7 C949.9,1386.6 952.6,1396.0 957.5,1396.7 C962.4,1397.5 971.9,1395.2 975.6,1392.2 C979.4,1389.2 977.0,1383.1 980.0,1378.6 C983.0,1374.1 990.2,1367.7 993.6,1365.1 C997.0,1362.5 997.4,1365.9 1000.4,1362.9 C1003.4,1359.9 1008.3,1346.3 1011.7,1347.1 C1015.1,1347.8 1017.0,1364.4 1020.7,1367.4 C1024.5,1370.4 1030.2,1365.2 1034.2,1365.1 C1038.2,1365.0 1041.2,1368.0 1044.4,1366.9 C1047.6,1365.9 1050.3,1357.0 1053.5,1358.8 C1056.7,1360.6 1060.4,1375.8 1063.4,1377.7 C1066.4,1379.7 1067.8,1371.4 1071.5,1370.5 C1075.2,1369.6 1082.1,1369.0 1085.9,1372.3 C1089.7,1375.6 1091.1,1391.5 1094.1,1390.4 C1097.1,1389.4 1100.5,1368.4 1104.0,1366.0 C1107.5,1363.6 1111.5,1370.3 1114.8,1375.9 C1118.1,1381.5 1120.9,1393.7 1123.8,1399.4 C1126.7,1405.1 1129.5,1411.1 1131.9,1410.2 C1134.3,1409.3 1136.0,1395.2 1138.3,1394.0 C1140.6,1392.8 1142.5,1405.1 1145.5,1403.0 C1148.5,1400.9 1152.4,1389.1 1156.3,1381.3 C1160.2,1373.5 1165.3,1360.0 1168.9,1356.1 C1172.5,1352.2 1175.3,1353.1 1178.0,1357.9 C1180.7,1362.7 1182.5,1377.5 1185.2,1385.0 C1187.9,1392.5 1191.5,1405.4 1194.2,1403.0 C1196.9,1400.6 1198.7,1375.0 1201.4,1370.5 C1204.1,1366.0 1207.4,1377.6 1210.4,1375.9 C1213.4,1374.2 1215.9,1358.8 1219.5,1360.6 C1223.1,1362.4 1228.8,1384.5 1232.1,1386.8 C1235.4,1389.0 1236.9,1373.8 1239.3,1374.1 C1241.7,1374.4 1244.5,1389.5 1246.5,1388.6 C1248.5,1387.7 1250.2,1372.0 1251.0,1368.7" fill="none" stroke="#ff2600" stroke-width="4.2" stroke-linejoin="round" stroke-linecap="round" />
<path d="M89.0,2140.0 C89.3,2131.6 89.9,2103.5 90.9,2089.6 C91.9,2075.7 93.8,2068.5 94.8,2056.4 C95.8,2044.4 96.4,2028.7 96.7,2017.3 C97.0,2005.9 96.4,1996.2 96.7,1988.0 C97.0,1979.8 97.7,1972.0 98.7,1968.4 C99.7,1964.8 101.3,1970.1 102.6,1966.5 C103.9,1962.9 105.2,1947.2 106.5,1946.9 C107.8,1946.6 109.4,1957.0 110.4,1964.5 C111.4,1972.0 110.8,1989.0 112.4,1991.9 C114.0,1994.8 118.6,1986.0 120.2,1982.1 C121.8,1978.2 120.8,1968.7 122.1,1968.4 C123.4,1968.1 126.0,1982.5 128.0,1980.2 C130.0,1977.9 131.0,1958.3 133.9,1954.7 C136.8,1951.1 142.3,1956.1 145.6,1958.7 C148.8,1961.3 150.8,1971.1 153.4,1970.4 C156.0,1969.7 158.3,1959.9 161.2,1954.7 C164.1,1949.5 168.4,1938.4 171.0,1939.1 C173.6,1939.8 175.0,1957.4 176.9,1958.7 C178.8,1960.0 179.4,1949.8 182.7,1946.9 C185.9,1944.0 192.2,1936.5 196.4,1941.1 C200.7,1945.7 204.6,1974.0 208.2,1974.3 C211.8,1974.6 215.3,1945.9 217.9,1943.0 C220.5,1940.1 221.2,1957.7 223.8,1956.7 C226.4,1955.7 230.0,1939.7 233.6,1937.1 C237.2,1934.5 241.7,1937.5 245.3,1941.1 C248.9,1944.7 252.2,1958.7 255.1,1958.7 C258.0,1958.7 260.0,1941.4 262.9,1941.1 C265.8,1940.8 269.8,1958.0 272.7,1956.7 C275.6,1955.4 277.9,1935.2 280.5,1933.2 C283.1,1931.2 286.0,1945.3 288.3,1945.0 C290.6,1944.7 291.3,1926.4 294.2,1931.3 C297.1,1936.2 302.8,1972.0 305.9,1974.3 C309.0,1976.6 310.5,1947.6 312.8,1945.0 C315.1,1942.4 317.8,1954.2 319.6,1958.7 C321.4,1963.2 321.9,1972.6 323.5,1972.3 C325.1,1972.0 327.5,1958.8 329.4,1956.7 C331.3,1954.6 333.1,1951.3 335.0,1959.8 C336.9,1968.3 339.0,2007.9 341.0,2007.6 C343.0,2007.3 344.9,1962.4 347.0,1957.8 C349.1,1953.2 351.9,1976.7 353.9,1979.7 C355.9,1982.7 357.1,1980.4 358.9,1975.7 C360.7,1971.0 362.9,1955.5 364.9,1951.8 C366.9,1948.1 369.2,1950.8 370.9,1953.8 C372.5,1956.8 372.8,1966.0 374.8,1969.7 C376.8,1973.4 380.5,1977.7 382.8,1975.7 C385.1,1973.7 386.5,1963.1 388.8,1957.8 C391.1,1952.5 394.5,1939.8 396.8,1943.8 C399.1,1947.8 400.4,1982.4 402.7,1981.7 C405.0,1981.0 408.7,1947.4 410.7,1939.8 C412.7,1932.2 412.4,1936.2 414.7,1935.9 C417.0,1935.6 422.0,1935.1 424.7,1937.9 C427.4,1940.7 428.6,1952.5 430.6,1952.8 C432.6,1953.1 433.9,1942.6 436.6,1939.8 C439.3,1937.0 443.9,1936.6 446.6,1935.9 C449.3,1935.2 450.0,1933.6 452.6,1935.9 C455.2,1938.2 460.2,1942.5 462.5,1949.8 C464.8,1957.1 464.8,1976.7 466.5,1979.7 C468.2,1982.7 470.5,1966.5 472.5,1967.7 C474.5,1968.9 476.9,1989.0 478.5,1986.7 C480.1,1984.4 480.1,1960.3 482.4,1953.8 C484.7,1947.3 489.7,1945.5 492.4,1947.8 C495.1,1950.1 496.1,1963.0 498.4,1967.7 C500.7,1972.4 503.3,1977.7 506.3,1975.7 C509.3,1973.7 513.6,1957.8 516.3,1955.8 C519.0,1953.8 520.1,1964.1 522.3,1963.8 C524.5,1963.5 526.8,1953.8 529.3,1953.8 C531.8,1953.8 534.9,1966.3 537.2,1963.8 C539.5,1961.3 540.7,1940.9 543.2,1938.9 C545.7,1936.9 550.0,1951.0 552.2,1951.8 C554.4,1952.6 554.6,1940.5 556.2,1943.8 C557.9,1947.1 560.1,1966.0 562.1,1971.7 C564.1,1977.4 566.1,1978.4 568.1,1977.7 C570.1,1977.0 572.4,1968.0 574.1,1967.7 C575.8,1967.4 576.1,1979.9 578.1,1975.7 C580.1,1971.5 584.7,1948.3 586.0,1942.8" fill="none" stroke="#ff2a8c" stroke-width="4.2" stroke-linejoin="round" stroke-linecap="round" />
<path d="M90.0,2180.0 C90.5,2191.7 92.0,2228.6 92.8,2250.0 C93.6,2271.4 94.1,2291.8 94.8,2308.7 C95.5,2325.6 95.7,2341.3 96.7,2351.7 C97.7,2362.1 99.0,2365.3 100.6,2371.2 C102.2,2377.1 104.5,2388.8 106.5,2386.9 C108.5,2385.0 110.8,2359.5 112.4,2359.5 C114.0,2359.5 114.7,2381.0 116.3,2386.9 C117.9,2392.8 120.1,2396.7 122.1,2394.7 C124.0,2392.7 126.0,2375.4 128.0,2375.1 C130.0,2374.8 131.3,2389.4 133.9,2392.7 C136.5,2396.0 140.4,2397.3 143.7,2394.7 C146.9,2392.1 150.2,2378.1 153.4,2377.1 C156.7,2376.1 160.3,2384.9 163.2,2388.8 C166.1,2392.7 168.4,2400.8 171.0,2400.5 C173.6,2400.2 175.9,2386.2 178.8,2386.9 C181.7,2387.6 185.3,2404.5 188.6,2404.5 C191.9,2404.5 195.5,2393.4 198.4,2386.9 C201.3,2380.4 203.9,2367.3 206.2,2365.3 C208.5,2363.3 210.1,2368.6 212.1,2375.1 C214.1,2381.6 215.6,2401.6 217.9,2404.5 C220.2,2407.4 222.9,2392.4 225.8,2392.7 C228.7,2393.0 232.2,2404.4 235.5,2406.4 C238.8,2408.4 242.4,2407.1 245.3,2404.5 C248.2,2401.9 250.5,2393.7 253.1,2390.8 C255.7,2387.9 258.1,2385.6 261.0,2386.9 C263.9,2388.2 267.4,2395.7 270.7,2398.6 C273.9,2401.5 277.2,2403.8 280.5,2404.5 C283.8,2405.2 287.0,2403.2 290.3,2402.5 C293.6,2401.8 297.5,2405.7 300.1,2400.5 C302.7,2395.3 303.6,2372.8 305.9,2371.2 C308.2,2369.6 310.8,2390.8 313.7,2390.8 C316.6,2390.8 320.6,2371.8 323.5,2371.2 C326.4,2370.5 328.4,2392.1 331.3,2386.9 C334.2,2381.7 338.5,2341.5 341.1,2339.9 C343.7,2338.3 344.7,2373.9 347.0,2377.5 C349.3,2381.1 352.6,2360.3 354.9,2361.6 C357.2,2362.9 358.9,2379.5 360.9,2385.5 C362.9,2391.5 364.6,2400.1 366.9,2397.4 C369.2,2394.7 372.1,2374.5 374.8,2369.5 C377.5,2364.5 379.8,2363.6 382.8,2367.6 C385.8,2371.6 389.5,2393.2 392.8,2393.5 C396.1,2393.8 399.7,2370.8 402.7,2369.5 C405.7,2368.2 408.7,2380.2 410.7,2385.5 C412.7,2390.8 411.7,2398.4 414.7,2401.4 C417.7,2404.4 424.6,2404.1 428.6,2403.4 C432.6,2402.7 435.6,2397.4 438.6,2397.4 C441.6,2397.4 443.3,2404.7 446.6,2403.4 C449.9,2402.1 455.2,2396.1 458.5,2389.5 C461.8,2382.9 463.2,2368.6 466.5,2363.6 C469.8,2358.6 475.2,2355.9 478.5,2359.6 C481.8,2363.2 484.1,2382.5 486.4,2385.5 C488.7,2388.5 490.1,2380.8 492.4,2377.5 C494.7,2374.2 498.1,2369.2 500.4,2365.6 C502.7,2361.9 504.0,2353.9 506.3,2355.6 C508.6,2357.2 511.3,2371.5 514.3,2375.5 C517.3,2379.5 521.0,2377.8 524.3,2379.5 C527.6,2381.2 530.9,2381.5 534.2,2385.5 C537.5,2389.5 540.9,2402.1 544.2,2403.4 C547.5,2404.7 551.2,2398.5 554.2,2393.5 C557.2,2388.5 559.1,2378.2 562.1,2373.5 C565.1,2368.8 569.1,2365.9 572.1,2365.6 C575.1,2365.3 577.8,2365.5 580.1,2371.5 C582.4,2377.5 585.0,2396.4 586.0,2401.4" fill="none" stroke="#ffbaf6" stroke-width="4" stroke-linejoin="round" stroke-linecap="round" />
<circle cx="89.9" cy="2410.3" r="3.9" fill="#8a0a48"/>
<circle cx="95.6" cy="2403.9" r="3.9" fill="#8a0a48"/>
<circle cx="101.6" cy="2397.7" r="3.9" fill="#8a0a48"/>
<circle cx="107.9" cy="2391.8" r="3.9" fill="#8a0a48"/>
<circle cx="112.2" cy="2384.9" r="3.9" fill="#8a0a48"/>
<circle cx="114.0" cy="2376.5" r="3.9" fill="#8a0a48"/>
<circle cx="119.2" cy="2377.7" r="3.9" fill="#8a0a48"/>
<circle cx="124.3" cy="2370.8" r="3.9" fill="#8a0a48"/>
<circle cx="128.9" cy="2371.0" r="3.9" fill="#8a0a48"/>
<circle cx="133.3" cy="2378.3" r="3.9" fill="#8a0a48"/>
<circle cx="139.7" cy="2384.0" r="3.9" fill="#8a0a48"/>
<circle cx="143.7" cy="2378.3" r="3.9" fill="#8a0a48"/>
<circle cx="147.3" cy="2377.7" r="3.9" fill="#8a0a48"/>
<circle cx="150.9" cy="2385.6" r="3.9" fill="#8a0a48"/>
<circle cx="156.6" cy="2386.0" r="3.9" fill="#8a0a48"/>
<circle cx="164.6" cy="2386.5" r="3.9" fill="#8a0a48"/>
<circle cx="172.6" cy="2389.8" r="3.9" fill="#8a0a48"/>
<circle cx="179.2" cy="2386.5" r="3.9" fill="#8a0a48"/>
<circle cx="185.2" cy="2381.6" r="3.9" fill="#8a0a48"/>
<circle cx="190.8" cy="2388.2" r="3.9" fill="#8a0a48"/>
<circle cx="196.8" cy="2393.6" r="3.9" fill="#8a0a48"/>
<circle cx="205.4" cy="2392.8" r="3.9" fill="#8a0a48"/>
<circle cx="213.2" cy="2389.2" r="3.9" fill="#8a0a48"/>
<circle cx="220.6" cy="2388.9" r="3.9" fill="#8a0a48"/>
<circle cx="227.9" cy="2392.5" r="3.9" fill="#8a0a48"/>
<circle cx="236.5" cy="2391.6" r="3.9" fill="#8a0a48"/>
<circle cx="245.0" cy="2390.8" r="3.9" fill="#8a0a48"/>
<circle cx="252.8" cy="2387.1" r="3.9" fill="#8a0a48"/>
<circle cx="259.1" cy="2390.4" r="3.9" fill="#8a0a48"/>
<circle cx="265.2" cy="2393.1" r="3.9" fill="#8a0a48"/>
<circle cx="272.4" cy="2388.4" r="3.9" fill="#8a0a48"/>
<circle cx="278.2" cy="2391.7" r="3.9" fill="#8a0a48"/>
<circle cx="283.9" cy="2391.3" r="3.9" fill="#8a0a48"/>
<circle cx="290.8" cy="2391.2" r="3.9" fill="#8a0a48"/>
<circle cx="298.3" cy="2393.9" r="3.9" fill="#8a0a48"/>
<circle cx="305.2" cy="2388.8" r="3.9" fill="#8a0a48"/>
<circle cx="311.9" cy="2390.4" r="3.9" fill="#8a0a48"/>
<circle cx="318.6" cy="2391.7" r="3.9" fill="#8a0a48"/>
<circle cx="325.7" cy="2387.0" r="3.9" fill="#8a0a48"/>
<circle cx="333.7" cy="2390.2" r="3.9" fill="#8a0a48"/>
<circle cx="340.0" cy="2385.9" r="3.9" fill="#8a0a48"/>
<circle cx="344.0" cy="2388.7" r="3.9" fill="#8a0a48"/>
<circle cx="347.2" cy="2396.1" r="3.9" fill="#8a0a48"/>
<circle cx="351.6" cy="2388.8" r="3.9" fill="#8a0a48"/>
<circle cx="358.1" cy="2389.5" r="3.9" fill="#8a0a48"/>
<circle cx="365.5" cy="2393.1" r="3.9" fill="#8a0a48"/>
<circle cx="372.7" cy="2390.4" r="3.9" fill="#8a0a48"/>
<circle cx="380.3" cy="2392.5" r="3.9" fill="#8a0a48"/>
<circle cx="387.6" cy="2391.1" r="3.9" fill="#8a0a48"/>
<circle cx="394.7" cy="2393.3" r="3.9" fill="#8a0a48"/>
<circle cx="399.7" cy="2386.3" r="3.9" fill="#8a0a48"/>
<circle cx="405.4" cy="2387.2" r="3.9" fill="#8a0a48"/>
<circle cx="412.3" cy="2391.9" r="3.9" fill="#8a0a48"/>
<circle cx="420.1" cy="2391.5" r="3.9" fill="#8a0a48"/>
<circle cx="427.3" cy="2388.1" r="3.9" fill="#8a0a48"/>
<circle cx="433.3" cy="2394.2" r="3.9" fill="#8a0a48"/>
<circle cx="438.5" cy="2387.9" r="3.9" fill="#8a0a48"/>
<circle cx="444.7" cy="2391.0" r="3.9" fill="#8a0a48"/>
<circle cx="451.8" cy="2395.7" r="3.9" fill="#8a0a48"/>
<circle cx="459.4" cy="2395.3" r="3.9" fill="#8a0a48"/>
<circle cx="466.5" cy="2392.5" r="3.9" fill="#8a0a48"/>
<circle cx="473.2" cy="2391.4" r="3.9" fill="#8a0a48"/>
<circle cx="479.4" cy="2389.5" r="3.9" fill="#8a0a48"/>
<circle cx="486.4" cy="2394.5" r="3.9" fill="#8a0a48"/>
<circle cx="493.3" cy="2395.2" r="3.9" fill="#8a0a48"/>
<circle cx="499.8" cy="2393.3" r="3.9" fill="#8a0a48"/>
<circle cx="505.2" cy="2398.9" r="3.9" fill="#8a0a48"/>
<circle cx="512.6" cy="2394.5" r="3.9" fill="#8a0a48"/>
<circle cx="520.9" cy="2392.6" r="3.9" fill="#8a0a48"/>
<circle cx="529.0" cy="2390.6" r="3.9" fill="#8a0a48"/>
<circle cx="534.1" cy="2383.7" r="3.9" fill="#8a0a48"/>
<circle cx="538.8" cy="2390.5" r="3.9" fill="#8a0a48"/>
<circle cx="545.7" cy="2389.7" r="3.9" fill="#8a0a48"/>
<circle cx="553.4" cy="2391.1" r="3.9" fill="#8a0a48"/>
<circle cx="560.0" cy="2386.4" r="3.9" fill="#8a0a48"/>
<circle cx="567.0" cy="2387.5" r="3.9" fill="#8a0a48"/>
<circle cx="575.3" cy="2389.9" r="3.9" fill="#8a0a48"/>
<circle cx="583.8" cy="2390.5" r="3.9" fill="#8a0a48"/>
<path d="M760.0,2290.0 C760.8,2294.2 762.5,2310.0 764.6,2315.2 C766.7,2320.4 769.8,2315.9 772.4,2321.1 C775.0,2326.3 777.3,2339.7 780.2,2346.5 C783.1,2353.3 786.8,2357.2 790.0,2362.1 C793.2,2367.0 796.1,2370.9 799.7,2375.8 C803.3,2380.7 807.6,2387.8 811.5,2391.4 C815.4,2395.0 819.0,2397.3 823.2,2397.3 C827.4,2397.3 833.0,2394.3 836.9,2391.4 C840.8,2388.5 842.5,2378.7 846.7,2379.7 C850.9,2380.7 857.1,2398.9 862.3,2397.3 C867.5,2395.7 874.1,2370.9 878.0,2369.9 C881.9,2368.9 880.9,2390.1 885.8,2391.4 C890.7,2392.7 901.4,2376.5 907.3,2377.8 C913.2,2379.1 915.8,2394.4 921.0,2399.3 C926.2,2404.2 932.8,2407.8 938.6,2407.1 C944.5,2406.4 949.3,2395.3 956.1,2395.3 C962.9,2395.3 972.3,2405.3 979.6,2407.1 C986.9,2408.9 992.2,2409.8 1000.0,2405.9 C1007.8,2402.0 1018.6,2385.5 1026.4,2383.5 C1034.2,2381.5 1039.9,2390.0 1046.7,2393.7 C1053.5,2397.4 1059.9,2405.2 1067.0,2405.9 C1074.1,2406.6 1081.5,2398.7 1089.3,2397.7 C1097.1,2396.7 1106.6,2402.2 1113.7,2399.8 C1120.8,2397.4 1126.6,2383.2 1132.0,2383.5 C1137.4,2383.8 1140.1,2397.7 1146.2,2401.8 C1152.3,2405.9 1160.4,2408.2 1168.5,2407.9 C1176.6,2407.6 1187.5,2401.8 1194.9,2399.8 C1202.4,2397.8 1205.8,2396.0 1213.2,2395.7 C1220.6,2395.3 1232.7,2396.3 1239.5,2397.7 C1246.3,2399.0 1251.4,2402.8 1253.8,2403.8" fill="none" stroke="#5cffff" stroke-width="3.8" stroke-linejoin="round" stroke-linecap="round" />
<path d="M756.0,2412.0 C756.8,2411.5 758.5,2412.1 760.6,2409.0 C762.7,2405.9 765.9,2398.0 768.5,2393.4 C771.1,2388.8 773.0,2387.9 776.3,2381.7 C779.5,2375.5 784.8,2358.5 788.0,2356.2 C791.2,2353.9 793.5,2362.4 795.8,2368.0 C798.1,2373.6 799.1,2387.9 801.7,2389.5 C804.3,2391.1 807.6,2378.5 811.5,2377.8 C815.4,2377.2 819.7,2387.2 825.2,2385.6 C830.7,2384.0 839.8,2368.7 844.7,2368.0 C849.6,2367.3 850.9,2377.8 854.5,2381.7 C858.1,2385.6 862.3,2388.8 866.2,2391.4 C870.1,2394.0 873.1,2398.6 878.0,2397.3 C882.9,2396.0 889.0,2382.6 895.5,2383.6 C902.0,2384.6 910.8,2405.1 917.0,2403.2 C923.2,2401.2 927.2,2373.9 932.7,2371.9 C938.2,2369.9 944.1,2386.2 950.3,2391.4 C956.5,2396.6 963.3,2403.5 969.8,2403.2 C976.3,2402.9 984.4,2389.7 989.4,2389.5 C994.4,2389.3 996.5,2403.5 1000.0,2401.8 C1003.5,2400.1 1006.5,2377.8 1010.2,2379.5 C1013.9,2381.2 1018.6,2409.6 1022.3,2412.0 C1026.0,2414.4 1028.1,2400.1 1032.5,2393.7 C1036.9,2387.3 1044.3,2373.4 1048.7,2373.4 C1053.1,2373.4 1055.5,2392.0 1058.9,2393.7 C1062.3,2395.4 1065.3,2382.8 1069.0,2383.5 C1072.7,2384.2 1076.8,2398.7 1081.2,2397.7 C1085.6,2396.7 1091.3,2377.1 1095.4,2377.4 C1099.5,2377.8 1102.2,2398.4 1105.6,2399.8 C1109.0,2401.2 1110.3,2383.9 1115.7,2385.6 C1121.1,2387.3 1131.6,2407.9 1138.0,2409.9 C1144.4,2411.9 1146.8,2400.4 1154.3,2397.7 C1161.8,2395.0 1174.9,2391.7 1182.7,2393.7 C1190.5,2395.7 1195.9,2416.3 1201.0,2409.9 C1206.1,2403.5 1209.5,2356.4 1213.2,2355.1 C1216.9,2353.8 1218.9,2396.7 1223.3,2401.8 C1227.7,2406.9 1234.4,2387.3 1239.5,2385.6 C1244.6,2383.9 1251.4,2390.7 1253.8,2391.7" fill="none" stroke="#ff8cff" stroke-width="3.8" stroke-linejoin="round" stroke-linecap="round" />
<path d="M762.6,2280.0 C762.9,2286.5 763.6,2306.4 764.6,2319.1 C765.6,2331.8 766.5,2349.0 768.5,2356.2 C770.5,2363.4 773.7,2360.1 776.3,2362.1 C778.9,2364.1 781.5,2366.1 784.1,2368.0 C786.7,2369.9 789.0,2373.2 791.9,2373.8 C794.8,2374.5 798.1,2371.9 801.7,2371.9 C805.3,2371.9 809.8,2369.6 813.4,2373.8 C817.0,2378.0 819.6,2397.3 823.2,2397.3 C826.8,2397.3 832.0,2377.1 834.9,2373.8 C837.8,2370.6 838.5,2372.6 840.8,2377.8 C843.1,2383.0 846.0,2404.8 848.6,2405.1 C851.2,2405.4 853.5,2381.0 856.4,2379.7 C859.3,2378.4 862.0,2395.7 866.2,2397.3 C870.5,2398.9 877.3,2389.2 881.9,2389.5 C886.5,2389.8 890.4,2400.0 893.6,2399.3 C896.9,2398.7 897.5,2384.6 901.4,2385.6 C905.3,2386.6 911.1,2406.7 917.0,2405.1 C922.9,2403.5 931.1,2379.1 936.6,2375.8 C942.1,2372.6 945.4,2380.1 950.3,2385.6 C955.2,2391.1 959.4,2410.0 965.9,2409.0 C972.4,2408.0 983.5,2382.3 989.4,2379.7 C995.3,2377.1 998.0,2394.8 1001.1,2393.4 C1004.2,2392.0 1005.6,2372.7 1008.1,2371.4 C1010.6,2370.1 1013.5,2379.2 1016.2,2385.6 C1018.9,2392.0 1021.4,2407.5 1024.4,2409.9 C1027.5,2412.3 1030.5,2403.9 1034.5,2399.8 C1038.5,2395.8 1044.3,2386.3 1048.7,2385.6 C1053.1,2384.9 1056.2,2392.7 1060.9,2395.7 C1065.6,2398.7 1072.7,2405.2 1077.1,2403.8 C1081.5,2402.5 1083.2,2386.6 1087.3,2387.6 C1091.4,2388.6 1096.4,2408.9 1101.5,2409.9 C1106.6,2410.9 1113.0,2395.0 1117.7,2393.7 C1122.4,2392.3 1125.8,2401.8 1129.9,2401.8 C1134.0,2401.8 1137.7,2398.4 1142.1,2393.7 C1146.5,2389.0 1151.9,2374.1 1156.3,2373.4 C1160.7,2372.7 1164.1,2384.9 1168.5,2389.6 C1172.9,2394.3 1177.0,2401.8 1182.7,2401.8 C1188.5,2401.8 1196.9,2391.6 1203.0,2389.6 C1209.1,2387.6 1214.1,2391.6 1219.2,2389.6 C1224.3,2387.6 1229.4,2376.4 1233.5,2377.4 C1237.6,2378.4 1240.2,2393.0 1243.6,2395.7 C1247.0,2398.4 1252.1,2394.0 1253.8,2393.7" fill="none" stroke="#0a168e" stroke-width="4" stroke-linejoin="round" stroke-linecap="round" />
<polyline points="755.8,1958.7 757.0,2030.0 758.5,2100.0 761.0,2200.0 762.6,2280.0" fill="none" stroke="#0a168e" stroke-width="3.6" stroke-linejoin="round" stroke-linecap="round" />
<polyline points="757.0,2412.0 759.0,2350.0 761.0,2250.0 762.0,2150.0 762.6,2128.7" fill="none" stroke="#ff2600" stroke-width="3.2" stroke-linejoin="round" stroke-linecap="round" />
<path d="M762.6,2128.7 C762.9,2121.5 763.6,2096.8 764.6,2085.7 C765.6,2074.6 766.9,2064.2 768.5,2062.3 C770.1,2060.4 772.3,2073.7 774.3,2074.0 C776.2,2074.3 778.4,2064.8 780.2,2064.2 C782.0,2063.5 783.5,2074.6 785.1,2070.1 C786.7,2065.6 788.2,2042.8 790.0,2036.9 C791.8,2031.0 794.2,2039.5 795.8,2034.9 C797.4,2030.3 798.1,2013.7 799.7,2009.5 C801.3,2005.3 804.0,2010.8 805.6,2009.5 C807.2,2008.2 808.2,2002.4 809.5,2001.7 C810.8,2001.0 811.4,2010.5 813.4,2005.6 C815.4,2000.7 818.3,1973.3 821.2,1972.3 C824.1,1971.3 827.7,1998.1 831.0,1999.7 C834.3,2001.3 837.9,1984.0 840.8,1982.1 C843.7,1980.1 846.0,1987.7 848.6,1988.0 C851.2,1988.3 853.5,1989.3 856.4,1984.1 C859.3,1978.9 862.3,1956.4 866.2,1956.7 C870.1,1957.0 876.0,1984.7 879.9,1986.0 C883.8,1987.3 887.1,1965.8 889.7,1964.5 C892.3,1963.2 892.9,1975.6 895.5,1978.2 C898.1,1980.8 901.4,1985.4 905.3,1980.2 C909.2,1975.0 914.8,1946.2 919.0,1946.9 C923.2,1947.6 927.1,1978.9 930.7,1984.1 C934.3,1989.3 938.2,1981.5 940.5,1978.2 C942.8,1974.9 941.8,1967.4 944.4,1964.5 C947.0,1961.6 953.5,1963.5 956.1,1960.6 C958.7,1957.7 957.1,1950.8 960.0,1946.9 C962.9,1943.0 969.1,1934.5 973.7,1937.1 C978.3,1939.7 983.9,1959.8 987.4,1962.6 C990.9,1965.4 992.9,1958.2 995.0,1953.8 C997.1,1949.4 997.8,1928.3 1000.2,1936.2 C1002.6,1944.1 1005.7,2002.2 1009.5,2001.3 C1013.3,2000.4 1019.6,1938.4 1022.9,1931.0 C1026.2,1923.6 1026.8,1952.2 1029.1,1956.9 C1031.3,1961.6 1033.8,1956.7 1036.4,1958.9 C1039.0,1961.1 1042.5,1965.3 1044.6,1970.3 C1046.7,1975.3 1047.1,1987.2 1048.8,1988.9 C1050.5,1990.6 1053.1,1987.0 1055.0,1980.6 C1056.9,1974.2 1058.0,1953.8 1060.1,1950.7 C1062.2,1947.6 1064.6,1964.6 1067.4,1962.0 C1070.2,1959.4 1074.0,1936.9 1076.7,1935.2 C1079.5,1933.5 1081.0,1947.2 1083.9,1951.7 C1086.8,1956.2 1090.8,1965.5 1094.3,1962.0 C1097.8,1958.5 1101.2,1929.6 1104.6,1931.0 C1108.0,1932.4 1111.5,1967.9 1114.9,1970.3 C1118.4,1972.7 1122.4,1947.2 1125.3,1945.5 C1128.2,1943.8 1130.1,1960.0 1132.5,1960.0 C1134.9,1960.0 1137.3,1945.8 1139.7,1945.5 C1142.1,1945.2 1144.1,1952.7 1147.0,1957.9 C1149.9,1963.1 1153.8,1978.9 1157.3,1976.5 C1160.8,1974.1 1164.4,1946.9 1167.7,1943.4 C1171.0,1940.0 1174.6,1955.1 1177.0,1955.8 C1179.4,1956.5 1180.2,1945.9 1182.1,1947.6 C1184.0,1949.3 1185.5,1967.4 1188.3,1966.2 C1191.1,1965.0 1195.8,1943.4 1198.7,1940.3 C1201.6,1937.2 1203.5,1937.4 1205.9,1947.6 C1208.3,1957.8 1210.1,2001.0 1213.2,2001.3 C1216.3,2001.6 1221.1,1954.4 1224.5,1949.6 C1227.9,1944.8 1231.4,1969.3 1233.8,1972.4 C1236.2,1975.5 1236.4,1968.6 1239.0,1968.2 C1241.6,1967.8 1246.9,1972.4 1249.3,1970.3 C1251.7,1968.2 1252.8,1958.2 1253.5,1955.8" fill="none" stroke="#ff2600" stroke-width="3.6" stroke-linejoin="round" stroke-linecap="round" />
<line x1="758" y1="386.7" x2="1253" y2="386.7" stroke="#5a5a5a" stroke-width="3" stroke-dasharray="7 6.3"/>
<rect x="906.3" y="1249" width="210.4000000000001" height="79" rx="5" ry="5" fill="none" stroke="#5c5c5c" stroke-width="2.4"/>
<line x1="848.5" y1="1280.5" x2="908.3" y2="1286.6" stroke="#8f8f8f" stroke-width="3"/>
<line x1="1107" y1="1288" x2="1155.2" y2="1282" stroke="#8f8f8f" stroke-width="3"/>
<circle cx="940.8" cy="1153.6" r="27.9" fill="none" stroke="#ff0000" stroke-width="5"/>
<circle cx="1077" cy="1153.3" r="27.5" fill="none" stroke="#ff80ff" stroke-width="5"/>
<circle cx="940.8" cy="1286.6" r="27.9" fill="none" stroke="#0a1a96" stroke-width="5"/>
<circle cx="1077" cy="1286.9" r="28.2" fill="none" stroke="#00ffff" stroke-width="5"/>
<text x="929.74" y="1299.80" font-size="36.00" font-weight="normal" font-style="normal" fill="#000" stroke="#000" stroke-width="0.30" textLength="24.48" lengthAdjust="spacingAndGlyphs" >c</text>
<text x="1062.96" y="1300.00" font-size="40.00" font-weight="normal" font-style="normal" fill="#000" stroke="#000" stroke-width="0.30" textLength="28.40" lengthAdjust="spacingAndGlyphs" >e</text>
<text x="763.12" y="1217.60" font-size="25.07" font-weight="normal" font-style="normal" fill="#1a1a1a" stroke="#1a1a1a" stroke-width="0.48" textLength="49.04" lengthAdjust="spacingAndGlyphs" >Last</text>
<text x="763.34" y="1254.10" font-size="25.50" font-weight="normal" font-style="normal" fill="#1a1a1a" stroke="#1a1a1a" stroke-width="0.48" textLength="119.50" lengthAdjust="spacingAndGlyphs" >rewarded</text>
<text x="764.78" y="1289.70" font-size="25.50" font-weight="normal" font-style="normal" fill="#1a1a1a" stroke="#1a1a1a" stroke-width="0.48" textLength="71.72" lengthAdjust="spacingAndGlyphs" >target</text>
<text x="923.41" y="1239.90" font-size="25.50" font-weight="normal" font-style="normal" fill="#1a1a1a" stroke="#1a1a1a" stroke-width="0.48" textLength="168.53" lengthAdjust="spacingAndGlyphs" >Last valid pair</text>
<text x="1161.38" y="1254.40" font-size="25.50" font-weight="normal" font-style="normal" fill="#1a1a1a" stroke="#1a1a1a" stroke-width="0.48" textLength="143.72" lengthAdjust="spacingAndGlyphs" >First step in</text>
<text x="1162.43" y="1291.70" font-size="25.50" font-weight="normal" font-style="normal" fill="#1a1a1a" stroke="#1a1a1a" stroke-width="0.48" textLength="142.52" lengthAdjust="spacingAndGlyphs" >exploration</text>
<line x1="922.6" y1="1179.0" x2="854.7" y2="1333.1" stroke="#000" stroke-width="2.6"/>
<polygon points="847.0,1350.5 846.8,1327.5 864.2,1335.1" fill="#000"/>
<line x1="920.5" y1="1311.0" x2="837.5" y2="1398.7" stroke="#000" stroke-width="2.6"/>
<polygon points="824.4,1412.5 831.9,1390.7 845.7,1403.8" fill="#000"/>
<line x1="1048.1" y1="1159.3" x2="1021.4" y2="1445.5" stroke="#000" stroke-width="2.6"/>
<polygon points="1019.6,1464.4 1012.1,1442.6 1031.0,1444.4" fill="#000"/>
<line x1="1079.4" y1="1318.0" x2="1053.1" y2="1532.1" stroke="#000" stroke-width="2.6"/>
<polygon points="1050.8,1551.0 1043.9,1529.0 1062.8,1531.3" fill="#000"/>
<rect x="919.5" y="2204.1" width="210.79999999999995" height="78.90000000000009" rx="5" ry="5" fill="none" stroke="#5c5c5c" stroke-width="2.4"/>
<line x1="903.3" y1="2240.7" x2="923.6" y2="2240.7" stroke="#8f8f8f" stroke-width="3"/>
<line x1="1123" y1="2240.5" x2="1176" y2="2240.5" stroke="#8f8f8f" stroke-width="3"/>
<circle cx="955" cy="2105.7" r="27.9" fill="none" stroke="#ff0000" stroke-width="5"/>
<circle cx="1090.6" cy="2105.7" r="28.5" fill="none" stroke="#ff80ff" stroke-width="5"/>
<circle cx="955.4" cy="2240" r="28.4" fill="none" stroke="#0a1a96" stroke-width="5"/>
<circle cx="1090.1" cy="2240.5" r="28.5" fill="none" stroke="#00ffff" stroke-width="5"/>
<text x="943.85" y="2251.80" font-size="36.00" font-weight="normal" font-style="normal" fill="#000" stroke="#000" stroke-width="0.30" textLength="25.63" lengthAdjust="spacingAndGlyphs" >c</text>
<text x="1079.06" y="2252.50" font-size="40.00" font-weight="normal" font-style="normal" fill="#000" stroke="#000" stroke-width="0.30" textLength="26.98" lengthAdjust="spacingAndGlyphs" >e</text>
<text x="777.23" y="2213.30" font-size="26.52" font-weight="normal" font-style="normal" fill="#1a1a1a" stroke="#1a1a1a" stroke-width="0.50" textLength="51.24" lengthAdjust="spacingAndGlyphs" >Last</text>
<text x="777.52" y="2249.80" font-size="25.50" font-weight="normal" font-style="normal" fill="#1a1a1a" stroke="#1a1a1a" stroke-width="0.48" textLength="120.53" lengthAdjust="spacingAndGlyphs" >rewarded</text>
<text x="778.97" y="2286.40" font-size="25.50" font-weight="normal" font-style="normal" fill="#1a1a1a" stroke="#1a1a1a" stroke-width="0.48" textLength="73.74" lengthAdjust="spacingAndGlyphs" >target</text>
<text x="942.71" y="2193.00" font-size="25.50" font-weight="normal" font-style="normal" fill="#1a1a1a" stroke="#1a1a1a" stroke-width="0.48" textLength="168.84" lengthAdjust="spacingAndGlyphs" >Last valid pair</text>
<text x="1179.76" y="2212.80" font-size="25.50" font-weight="normal" font-style="normal" fill="#1a1a1a" stroke="#1a1a1a" stroke-width="0.48" textLength="144.95" lengthAdjust="spacingAndGlyphs" >First step in</text>
<text x="1180.82" y="2248.90" font-size="25.50" font-weight="normal" font-style="normal" fill="#1a1a1a" stroke="#1a1a1a" stroke-width="0.48" textLength="143.96" lengthAdjust="spacingAndGlyphs" >exploration</text>
<line x1="931.7" y1="2084.4" x2="817.1" y2="2033.8" stroke="#000" stroke-width="2.6"/>
<polygon points="799.7,2026.1 822.7,2025.9 815.1,2043.3" fill="#000"/>
<line x1="933.7" y1="2265.0" x2="786.3" y2="2339.8" stroke="#000" stroke-width="2.6"/>
<polygon points="769.4,2348.4 783.8,2330.4 792.4,2347.4" fill="#000"/>
<line x1="1113.5" y1="2129.8" x2="1199.6" y2="2331.5" stroke="#000" stroke-width="2.6"/>
<polygon points="1207.1,2349.0 1190.1,2333.4 1207.6,2326.0" fill="#000"/>
<line x1="1071.4" y1="2267.0" x2="1036.0" y2="2362.7" stroke="#000" stroke-width="2.6"/>
<polygon points="1029.4,2380.5 1027.8,2357.5 1045.6,2364.1" fill="#000"/>
</svg></body></html>
